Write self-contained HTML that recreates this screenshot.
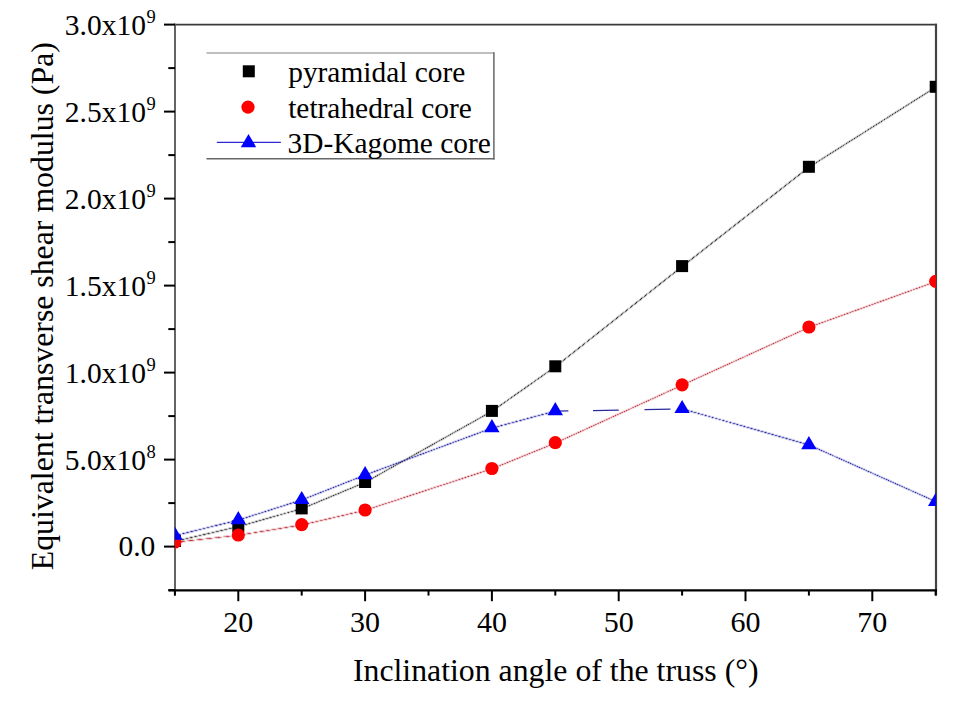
<!DOCTYPE html>
<html><head><meta charset="utf-8"><style>
html,body{margin:0;padding:0;background:#fff;}
svg{display:block;}
text{font-family:"Liberation Serif",serif;fill:#000;}
</style></head><body>
<svg width="960" height="706" viewBox="0 0 960 706">
<rect width="960" height="706" fill="#fff"/>
<defs><clipPath id="pc"><rect x="174.9" y="24.6" width="761.0" height="566"/></clipPath></defs>
<line x1="174" y1="24.7" x2="936.9" y2="24.7" stroke="#3a3a3a" stroke-width="1.8"/>
<line x1="936" y1="23.8" x2="936" y2="595.6" stroke="#444" stroke-width="2.2"/>
<line x1="175" y1="23.8" x2="175" y2="595.6" stroke="#5c5c5c" stroke-width="1.9"/>
<line x1="168.5" y1="590.4" x2="937" y2="590.4" stroke="#000" stroke-width="2.2"/>
<line x1="168.3" y1="590.1" x2="175" y2="590.1" stroke="#000" stroke-width="2"/>
<line x1="164" y1="546.6" x2="175" y2="546.6" stroke="#000" stroke-width="2"/>
<line x1="168.3" y1="503.1" x2="175" y2="503.1" stroke="#000" stroke-width="2"/>
<line x1="164" y1="459.6" x2="175" y2="459.6" stroke="#000" stroke-width="2"/>
<line x1="168.3" y1="416.1" x2="175" y2="416.1" stroke="#000" stroke-width="2"/>
<line x1="164" y1="372.6" x2="175" y2="372.6" stroke="#000" stroke-width="2"/>
<line x1="168.3" y1="329.1" x2="175" y2="329.1" stroke="#000" stroke-width="2"/>
<line x1="164" y1="285.6" x2="175" y2="285.6" stroke="#000" stroke-width="2"/>
<line x1="168.3" y1="242.1" x2="175" y2="242.1" stroke="#000" stroke-width="2"/>
<line x1="164" y1="198.6" x2="175" y2="198.6" stroke="#000" stroke-width="2"/>
<line x1="168.3" y1="155.1" x2="175" y2="155.1" stroke="#000" stroke-width="2"/>
<line x1="164" y1="111.6" x2="175" y2="111.6" stroke="#000" stroke-width="2"/>
<line x1="168.3" y1="68.1" x2="175" y2="68.1" stroke="#000" stroke-width="2"/>
<line x1="164" y1="24.6" x2="175" y2="24.6" stroke="#000" stroke-width="2"/>
<line x1="174.9" y1="590" x2="174.9" y2="595.6" stroke="#000" stroke-width="2"/>
<line x1="238.3" y1="590" x2="238.3" y2="601.2" stroke="#000" stroke-width="2"/>
<line x1="301.7" y1="590" x2="301.7" y2="595.6" stroke="#000" stroke-width="2"/>
<line x1="365.1" y1="590" x2="365.1" y2="601.2" stroke="#000" stroke-width="2"/>
<line x1="428.5" y1="590" x2="428.5" y2="595.6" stroke="#000" stroke-width="2"/>
<line x1="491.9" y1="590" x2="491.9" y2="601.2" stroke="#000" stroke-width="2"/>
<line x1="555.3" y1="590" x2="555.3" y2="595.6" stroke="#000" stroke-width="2"/>
<line x1="618.7" y1="590" x2="618.7" y2="601.2" stroke="#000" stroke-width="2"/>
<line x1="682.1" y1="590" x2="682.1" y2="595.6" stroke="#000" stroke-width="2"/>
<line x1="745.5" y1="590" x2="745.5" y2="601.2" stroke="#000" stroke-width="2"/>
<line x1="808.9" y1="590" x2="808.9" y2="595.6" stroke="#000" stroke-width="2"/>
<line x1="872.3" y1="590" x2="872.3" y2="601.2" stroke="#000" stroke-width="2"/>
<line x1="935.7" y1="590" x2="935.7" y2="595.6" stroke="#000" stroke-width="2"/>
<g clip-path="url(#pc)">
<path d="M933.8 86.8h1.4v1.4h-1.4zM928.8 90.8h1.4v1.4h-1.4zM925.8 91.8h1.4v1.4h-1.4zM925.8 92.8h1.4v1.4h-1.4zM922.8 93.8h1.4v1.4h-1.4zM917.8 97.8h1.4v1.4h-1.4zM914.8 98.8h1.4v1.4h-1.4zM909.8 102.8h1.4v1.4h-1.4zM906.8 103.8h1.4v1.4h-1.4zM906.8 104.8h1.4v1.4h-1.4zM903.8 105.8h1.4v1.4h-1.4zM898.8 109.8h1.4v1.4h-1.4zM895.8 110.8h1.4v1.4h-1.4zM890.8 114.8h1.4v1.4h-1.4zM887.8 115.8h1.4v1.4h-1.4zM887.8 116.8h1.4v1.4h-1.4zM884.8 117.8h1.4v1.4h-1.4zM882.8 119.8h1.4v1.4h-1.4zM879.8 121.8h1.4v1.4h-1.4zM876.8 122.8h1.4v1.4h-1.4zM871.8 126.8h1.4v1.4h-1.4zM868.8 127.8h1.4v1.4h-1.4zM865.8 129.8h1.4v1.4h-1.4zM863.8 131.8h1.4v1.4h-1.4zM860.8 133.8h1.4v1.4h-1.4zM857.8 134.8h1.4v1.4h-1.4zM852.8 138.8h1.4v1.4h-1.4zM849.8 139.8h1.4v1.4h-1.4zM844.8 143.8h1.4v1.4h-1.4zM841.8 144.8h1.4v1.4h-1.4zM841.8 145.8h1.4v1.4h-1.4zM838.8 146.8h1.4v1.4h-1.4zM833.8 150.8h1.4v1.4h-1.4zM830.8 151.8h1.4v1.4h-1.4zM825.8 155.8h1.4v1.4h-1.4zM822.8 156.8h1.4v1.4h-1.4zM822.8 157.8h1.4v1.4h-1.4zM819.8 158.8h1.4v1.4h-1.4zM814.8 162.8h1.4v1.4h-1.4zM811.8 163.8h1.4v1.4h-1.4zM804.8 168.8h1.4v1.4h-1.4zM800.8 171.8h1.4v1.4h-1.4zM800.8 172.8h1.4v1.4h-1.4zM795.8 175.8h1.4v1.4h-1.4zM791.8 179.8h1.4v1.4h-1.4zM786.8 182.8h1.4v1.4h-1.4zM786.8 183.8h1.4v1.4h-1.4zM781.8 186.8h1.4v1.4h-1.4zM777.8 190.8h1.4v1.4h-1.4zM772.8 193.8h1.4v1.4h-1.4zM772.8 194.8h1.4v1.4h-1.4zM767.8 197.8h2.4v1.4h-2.4zM763.8 200.8h1.4v1.4h-1.4zM763.8 201.8h1.4v1.4h-1.4zM758.8 204.8h1.4v1.4h-1.4zM754.8 208.8h1.4v1.4h-1.4zM749.8 211.8h1.4v1.4h-1.4zM749.8 212.8h1.4v1.4h-1.4zM744.8 215.8h2.4v1.4h-2.4zM740.8 218.8h1.4v1.4h-1.4zM740.8 219.8h1.4v1.4h-1.4zM735.8 222.8h1.4v1.4h-1.4zM731.8 226.8h1.4v1.4h-1.4zM726.8 229.8h1.4v1.4h-1.4zM726.8 230.8h1.4v1.4h-1.4zM721.8 233.8h1.4v1.4h-1.4zM717.8 236.8h1.4v1.4h-1.4zM717.8 237.8h1.4v1.4h-1.4zM712.8 240.8h1.4v1.4h-1.4zM708.8 244.8h1.4v1.4h-1.4zM703.8 247.8h1.4v1.4h-1.4zM703.8 248.8h1.4v1.4h-1.4zM698.8 251.8h1.4v1.4h-1.4zM694.8 255.8h1.4v1.4h-1.4zM689.8 258.8h1.4v1.4h-1.4zM689.8 259.8h1.4v1.4h-1.4zM684.8 262.8h2.4v1.4h-2.4zM680.8 265.8h1.4v1.4h-1.4zM680.8 266.8h1.4v1.4h-1.4zM675.8 269.8h1.4v1.4h-1.4zM675.8 270.8h1.4v1.4h-1.4zM670.8 273.8h1.4v1.4h-1.4zM666.8 277.8h1.4v1.4h-1.4zM661.8 280.8h1.4v1.4h-1.4zM661.8 281.8h1.4v1.4h-1.4zM656.8 284.8h1.4v1.4h-1.4zM656.8 285.8h1.4v1.4h-1.4zM651.8 288.8h1.4v1.4h-1.4zM646.8 292.8h2.4v1.4h-2.4zM642.8 296.8h1.4v1.4h-1.4zM637.8 299.8h1.4v1.4h-1.4zM637.8 300.8h1.4v1.4h-1.4zM632.8 303.8h1.4v1.4h-1.4zM627.8 307.8h2.4v1.4h-2.4zM623.8 311.8h1.4v1.4h-1.4zM618.8 314.8h1.4v1.4h-1.4zM618.8 315.8h1.4v1.4h-1.4zM613.8 318.8h1.4v1.4h-1.4zM613.8 319.8h1.4v1.4h-1.4zM608.8 322.8h1.4v1.4h-1.4zM604.8 326.8h1.4v1.4h-1.4zM599.8 329.8h1.4v1.4h-1.4zM599.8 330.8h1.4v1.4h-1.4zM594.8 333.8h1.4v1.4h-1.4zM594.8 334.8h1.4v1.4h-1.4zM589.8 337.8h1.4v1.4h-1.4zM584.8 341.8h2.4v1.4h-2.4zM580.8 345.8h1.4v1.4h-1.4zM575.8 348.8h1.4v1.4h-1.4zM575.8 349.8h1.4v1.4h-1.4zM570.8 352.8h1.4v1.4h-1.4zM565.8 356.8h2.4v1.4h-2.4zM561.8 360.8h1.4v1.4h-1.4zM556.8 363.8h1.4v1.4h-1.4zM556.8 364.8h1.4v1.4h-1.4zM552.8 366.8h1.4v1.4h-1.4zM552.8 367.8h1.4v1.4h-1.4zM549.8 369.8h1.4v1.4h-1.4zM545.8 371.8h1.4v1.4h-1.4zM542.8 373.8h1.4v1.4h-1.4zM542.8 374.8h1.4v1.4h-1.4zM535.8 378.8h1.4v1.4h-1.4zM532.8 381.8h1.4v1.4h-1.4zM528.8 383.8h1.4v1.4h-1.4zM525.8 385.8h1.4v1.4h-1.4zM525.8 386.8h1.4v1.4h-1.4zM522.8 388.8h1.4v1.4h-1.4zM518.8 390.8h1.4v1.4h-1.4zM515.8 392.8h1.4v1.4h-1.4zM515.8 393.8h1.4v1.4h-1.4zM512.8 395.8h1.4v1.4h-1.4zM508.8 397.8h1.4v1.4h-1.4zM505.8 400.8h1.4v1.4h-1.4zM501.8 402.8h1.4v1.4h-1.4zM498.8 404.8h1.4v1.4h-1.4zM498.8 405.8h1.4v1.4h-1.4zM495.8 407.8h1.4v1.4h-1.4zM491.8 409.8h1.4v1.4h-1.4zM489.8 411.8h1.4v1.4h-1.4zM484.8 413.8h1.4v1.4h-1.4zM482.8 414.8h1.4v1.4h-1.4zM482.8 415.8h1.4v1.4h-1.4zM480.8 416.8h1.4v1.4h-1.4zM475.8 418.8h1.4v1.4h-1.4zM473.8 420.8h1.4v1.4h-1.4zM468.8 422.8h1.4v1.4h-1.4zM466.8 423.8h1.4v1.4h-1.4zM464.8 425.8h1.4v1.4h-1.4zM459.8 427.8h1.4v1.4h-1.4zM457.8 429.8h1.4v1.4h-1.4zM455.8 430.8h1.4v1.4h-1.4zM450.8 432.8h1.4v1.4h-1.4zM448.8 434.8h1.4v1.4h-1.4zM443.8 436.8h1.4v1.4h-1.4zM441.8 437.8h1.4v1.4h-1.4zM441.8 438.8h1.4v1.4h-1.4zM439.8 439.8h1.4v1.4h-1.4zM434.8 441.8h1.4v1.4h-1.4zM432.8 443.8h1.4v1.4h-1.4zM425.8 446.8h1.4v1.4h-1.4zM423.8 448.8h1.4v1.4h-1.4zM418.8 450.8h1.4v1.4h-1.4zM416.8 451.8h1.4v1.4h-1.4zM416.8 452.8h1.4v1.4h-1.4zM414.8 453.8h1.4v1.4h-1.4zM409.8 455.8h1.4v1.4h-1.4zM407.8 457.8h1.4v1.4h-1.4zM402.8 459.8h1.4v1.4h-1.4zM400.8 460.8h1.4v1.4h-1.4zM398.8 462.8h1.4v1.4h-1.4zM393.8 464.8h1.4v1.4h-1.4zM391.8 466.8h1.4v1.4h-1.4zM389.8 467.8h1.4v1.4h-1.4zM384.8 469.8h1.4v1.4h-1.4zM382.8 471.8h1.4v1.4h-1.4zM377.8 473.8h1.4v1.4h-1.4zM375.8 474.8h1.4v1.4h-1.4zM375.8 475.8h1.4v1.4h-1.4zM373.8 476.8h1.4v1.4h-1.4zM368.8 478.8h1.4v1.4h-1.4zM366.8 480.8h1.4v1.4h-1.4zM360.8 482.8h1.4v1.4h-1.4zM362.8 482.8h1.4v1.4h-1.4zM355.8 484.8h1.4v1.4h-1.4zM357.8 484.8h1.4v1.4h-1.4zM348.8 487.8h1.4v1.4h-1.4zM350.8 487.8h1.4v1.4h-1.4zM343.8 489.8h1.4v1.4h-1.4zM345.8 489.8h1.4v1.4h-1.4zM336.8 492.8h1.4v1.4h-1.4zM338.8 492.8h1.4v1.4h-1.4zM331.8 494.8h1.4v1.4h-1.4zM333.8 494.8h1.4v1.4h-1.4zM324.8 497.8h1.4v1.4h-1.4zM326.8 497.8h1.4v1.4h-1.4zM319.8 499.8h1.4v1.4h-1.4zM321.8 499.8h1.4v1.4h-1.4zM312.8 502.8h1.4v1.4h-1.4zM314.8 502.8h1.4v1.4h-1.4zM307.8 504.8h1.4v1.4h-1.4zM309.8 504.8h1.4v1.4h-1.4zM302.8 507.8h1.4v1.4h-1.4zM296.8 508.8h1.4v1.4h-1.4zM299.8 508.8h1.4v1.4h-1.4zM289.8 510.8h1.4v1.4h-1.4zM292.8 510.8h1.4v1.4h-1.4zM288.8 511.8h1.4v1.4h-1.4zM282.8 512.8h1.4v1.4h-1.4zM281.8 513.8h1.4v1.4h-1.4zM275.8 514.8h1.4v1.4h-1.4zM271.8 515.8h1.4v1.4h-1.4zM274.8 515.8h1.4v1.4h-1.4zM264.8 517.8h1.4v1.4h-1.4zM267.8 517.8h1.4v1.4h-1.4zM257.8 519.8h1.4v1.4h-1.4zM260.8 519.8h1.4v1.4h-1.4zM250.8 521.8h1.4v1.4h-1.4zM253.8 521.8h1.4v1.4h-1.4zM249.8 522.8h1.4v1.4h-1.4zM243.8 523.8h1.4v1.4h-1.4zM246.8 523.8h1.4v1.4h-1.4zM242.8 524.8h1.4v1.4h-1.4zM231.8 526.8h1.4v1.4h-1.4zM235.8 526.8h1.4v1.4h-1.4zM227.8 527.8h1.4v1.4h-1.4zM226.8 528.8h1.4v1.4h-1.4zM218.8 529.8h1.4v1.4h-1.4zM222.8 529.8h1.4v1.4h-1.4zM214.8 530.8h1.4v1.4h-1.4zM210.8 531.8h1.4v1.4h-1.4zM213.8 531.8h1.4v1.4h-1.4zM205.8 532.8h1.4v1.4h-1.4zM209.8 532.8h1.4v1.4h-1.4zM201.8 533.8h1.4v1.4h-1.4zM197.8 534.8h1.4v1.4h-1.4zM200.8 534.8h1.4v1.4h-1.4zM196.8 535.8h1.4v1.4h-1.4zM188.8 536.8h1.4v1.4h-1.4zM184.8 537.8h1.4v1.4h-1.4zM187.8 537.8h1.4v1.4h-1.4zM183.8 538.8h1.4v1.4h-1.4zM175.8 539.8h1.4v1.4h-1.4zM174.8 540.8h1.4v1.4h-1.4z" fill="#383838" fill-opacity="0.25"/>
<path d="M930.8 88.8h2.4v1.4h-2.4zM927.8 90.8h1.4v1.4h-1.4zM919.8 95.8h2.4v1.4h-2.4zM911.8 100.8h2.4v1.4h-2.4zM908.8 102.8h1.4v1.4h-1.4zM904.8 105.8h1.4v1.4h-1.4zM900.8 107.8h2.4v1.4h-2.4zM892.8 112.8h2.4v1.4h-2.4zM885.8 117.8h1.4v1.4h-1.4zM881.8 119.8h1.4v1.4h-1.4zM873.8 124.8h2.4v1.4h-2.4zM866.8 129.8h1.4v1.4h-1.4zM862.8 131.8h1.4v1.4h-1.4zM854.8 136.8h2.4v1.4h-2.4zM846.8 141.8h2.4v1.4h-2.4zM843.8 143.8h1.4v1.4h-1.4zM835.8 148.8h2.4v1.4h-2.4zM827.8 153.8h2.4v1.4h-2.4zM824.8 155.8h1.4v1.4h-1.4zM820.8 158.8h1.4v1.4h-1.4zM816.8 160.8h2.4v1.4h-2.4zM808.8 165.8h2.4v1.4h-2.4zM805.8 168.8h1.4v1.4h-1.4zM799.8 172.8h1.4v1.4h-1.4zM796.8 175.8h1.4v1.4h-1.4zM790.8 179.8h1.4v1.4h-1.4zM787.8 182.8h1.4v1.4h-1.4zM785.8 183.8h1.4v1.4h-1.4zM782.8 186.8h1.4v1.4h-1.4zM776.8 190.8h1.4v1.4h-1.4zM773.8 193.8h1.4v1.4h-1.4zM764.8 200.8h1.4v1.4h-1.4zM762.8 201.8h1.4v1.4h-1.4zM759.8 204.8h1.4v1.4h-1.4zM753.8 208.8h1.4v1.4h-1.4zM750.8 211.8h1.4v1.4h-1.4zM748.8 212.8h1.4v1.4h-1.4zM739.8 219.8h1.4v1.4h-1.4zM736.8 222.8h1.4v1.4h-1.4zM730.8 226.8h1.4v1.4h-1.4zM727.8 229.8h1.4v1.4h-1.4zM725.8 230.8h1.4v1.4h-1.4zM722.8 233.8h1.4v1.4h-1.4zM716.8 237.8h1.4v1.4h-1.4zM713.8 240.8h1.4v1.4h-1.4zM707.8 244.8h1.4v1.4h-1.4zM704.8 247.8h1.4v1.4h-1.4zM702.8 248.8h1.4v1.4h-1.4zM699.8 251.8h1.4v1.4h-1.4zM693.8 255.8h1.4v1.4h-1.4zM690.8 258.8h1.4v1.4h-1.4zM681.8 265.8h1.4v1.4h-1.4zM679.8 266.8h1.4v1.4h-1.4zM676.8 269.8h1.4v1.4h-1.4zM674.8 270.8h1.4v1.4h-1.4zM671.8 273.8h1.4v1.4h-1.4zM665.8 277.8h1.4v1.4h-1.4zM660.8 281.8h1.4v1.4h-1.4zM657.8 284.8h1.4v1.4h-1.4zM655.8 285.8h1.4v1.4h-1.4zM652.8 288.8h1.4v1.4h-1.4zM641.8 296.8h1.4v1.4h-1.4zM638.8 299.8h1.4v1.4h-1.4zM636.8 300.8h1.4v1.4h-1.4zM633.8 303.8h1.4v1.4h-1.4zM622.8 311.8h1.4v1.4h-1.4zM619.8 314.8h1.4v1.4h-1.4zM617.8 315.8h1.4v1.4h-1.4zM614.8 318.8h1.4v1.4h-1.4zM612.8 319.8h1.4v1.4h-1.4zM609.8 322.8h1.4v1.4h-1.4zM603.8 326.8h1.4v1.4h-1.4zM600.8 329.8h1.4v1.4h-1.4zM598.8 330.8h1.4v1.4h-1.4zM595.8 333.8h1.4v1.4h-1.4zM593.8 334.8h1.4v1.4h-1.4zM590.8 337.8h1.4v1.4h-1.4zM579.8 345.8h1.4v1.4h-1.4zM576.8 348.8h1.4v1.4h-1.4zM574.8 349.8h1.4v1.4h-1.4zM571.8 352.8h1.4v1.4h-1.4zM560.8 360.8h1.4v1.4h-1.4zM557.8 363.8h1.4v1.4h-1.4zM555.8 364.8h1.4v1.4h-1.4zM548.8 369.8h1.4v1.4h-1.4zM546.8 371.8h1.4v1.4h-1.4zM538.8 376.8h2.4v1.4h-2.4zM536.8 378.8h1.4v1.4h-1.4zM531.8 381.8h1.4v1.4h-1.4zM529.8 383.8h1.4v1.4h-1.4zM521.8 388.8h1.4v1.4h-1.4zM519.8 390.8h1.4v1.4h-1.4zM511.8 395.8h1.4v1.4h-1.4zM509.8 397.8h1.4v1.4h-1.4zM504.8 400.8h1.4v1.4h-1.4zM502.8 402.8h1.4v1.4h-1.4zM494.8 407.8h1.4v1.4h-1.4zM492.8 409.8h1.4v1.4h-1.4zM486.8 412.8h2.4v1.4h-2.4zM477.8 417.8h2.4v1.4h-2.4zM470.8 421.8h2.4v1.4h-2.4zM461.8 426.8h2.4v1.4h-2.4zM452.8 431.8h2.4v1.4h-2.4zM445.8 435.8h2.4v1.4h-2.4zM436.8 440.8h2.4v1.4h-2.4zM430.8 444.8h1.4v1.4h-1.4zM427.8 445.8h1.4v1.4h-1.4zM420.8 449.8h2.4v1.4h-2.4zM411.8 454.8h2.4v1.4h-2.4zM404.8 458.8h2.4v1.4h-2.4zM395.8 463.8h2.4v1.4h-2.4zM386.8 468.8h2.4v1.4h-2.4zM379.8 472.8h2.4v1.4h-2.4zM370.8 477.8h2.4v1.4h-2.4zM364.8 481.8h1.4v1.4h-1.4zM359.8 483.8h1.4v1.4h-1.4zM353.8 485.8h1.4v1.4h-1.4zM352.8 486.8h1.4v1.4h-1.4zM347.8 488.8h1.4v1.4h-1.4zM341.8 490.8h1.4v1.4h-1.4zM340.8 491.8h1.4v1.4h-1.4zM335.8 493.8h1.4v1.4h-1.4zM329.8 495.8h1.4v1.4h-1.4zM328.8 496.8h1.4v1.4h-1.4zM323.8 498.8h1.4v1.4h-1.4zM317.8 500.8h1.4v1.4h-1.4zM316.8 501.8h1.4v1.4h-1.4zM311.8 503.8h1.4v1.4h-1.4zM305.8 505.8h1.4v1.4h-1.4zM304.8 506.8h1.4v1.4h-1.4zM300.8 507.8h1.4v1.4h-1.4zM293.8 509.8h1.4v1.4h-1.4zM295.8 509.8h1.4v1.4h-1.4zM286.8 511.8h1.4v1.4h-1.4zM284.8 512.8h1.4v1.4h-1.4zM279.8 513.8h1.4v1.4h-1.4zM277.8 514.8h1.4v1.4h-1.4zM268.8 516.8h1.4v1.4h-1.4zM270.8 516.8h1.4v1.4h-1.4zM261.8 518.8h1.4v1.4h-1.4zM263.8 518.8h1.4v1.4h-1.4zM254.8 520.8h1.4v1.4h-1.4zM256.8 520.8h1.4v1.4h-1.4zM247.8 522.8h1.4v1.4h-1.4zM240.8 524.8h1.4v1.4h-1.4zM236.8 525.8h1.4v1.4h-1.4zM238.8 525.8h1.4v1.4h-1.4zM232.8 526.8h1.4v1.4h-1.4zM234.8 526.8h1.4v1.4h-1.4zM230.8 527.8h1.4v1.4h-1.4zM223.8 528.8h1.4v1.4h-1.4zM219.8 529.8h1.4v1.4h-1.4zM221.8 529.8h1.4v1.4h-1.4zM217.8 530.8h1.4v1.4h-1.4zM206.8 532.8h1.4v1.4h-1.4zM208.8 532.8h1.4v1.4h-1.4zM204.8 533.8h1.4v1.4h-1.4zM193.8 535.8h1.4v1.4h-1.4zM195.8 535.8h1.4v1.4h-1.4zM191.8 536.8h1.4v1.4h-1.4zM180.8 538.8h1.4v1.4h-1.4zM176.8 539.8h1.4v1.4h-1.4zM178.8 539.8h1.4v1.4h-1.4z" fill="#383838" fill-opacity="0.50"/>
<path d="M926.8 91.8h1.4v1.4h-1.4zM924.8 92.8h1.4v1.4h-1.4zM923.8 93.8h1.4v1.4h-1.4zM916.8 97.8h1.4v1.4h-1.4zM915.8 98.8h1.4v1.4h-1.4zM907.8 103.8h1.4v1.4h-1.4zM905.8 104.8h1.4v1.4h-1.4zM897.8 109.8h1.4v1.4h-1.4zM896.8 110.8h1.4v1.4h-1.4zM889.8 114.8h1.4v1.4h-1.4zM888.8 115.8h1.4v1.4h-1.4zM886.8 116.8h1.4v1.4h-1.4zM878.8 121.8h1.4v1.4h-1.4zM877.8 122.8h1.4v1.4h-1.4zM870.8 126.8h1.4v1.4h-1.4zM869.8 127.8h1.4v1.4h-1.4zM861.8 132.8h1.4v1.4h-1.4zM859.8 133.8h1.4v1.4h-1.4zM858.8 134.8h1.4v1.4h-1.4zM851.8 138.8h1.4v1.4h-1.4zM850.8 139.8h1.4v1.4h-1.4zM842.8 144.8h1.4v1.4h-1.4zM840.8 145.8h1.4v1.4h-1.4zM839.8 146.8h1.4v1.4h-1.4zM832.8 150.8h1.4v1.4h-1.4zM831.8 151.8h1.4v1.4h-1.4zM823.8 156.8h1.4v1.4h-1.4zM821.8 157.8h1.4v1.4h-1.4zM813.8 162.8h1.4v1.4h-1.4zM812.8 163.8h1.4v1.4h-1.4zM806.8 167.8h1.4v1.4h-1.4zM803.8 169.8h1.4v1.4h-1.4zM801.8 171.8h1.4v1.4h-1.4zM794.8 176.8h1.4v1.4h-1.4zM792.8 178.8h1.4v1.4h-1.4zM789.8 180.8h1.4v1.4h-1.4zM783.8 185.8h1.4v1.4h-1.4zM780.8 187.8h1.4v1.4h-1.4zM778.8 189.8h1.4v1.4h-1.4zM771.8 194.8h1.4v1.4h-1.4zM769.8 196.8h1.4v1.4h-1.4zM766.8 198.8h1.4v1.4h-1.4zM760.8 203.8h1.4v1.4h-1.4zM757.8 205.8h1.4v1.4h-1.4zM755.8 207.8h1.4v1.4h-1.4zM752.8 209.8h1.4v1.4h-1.4zM746.8 214.8h1.4v1.4h-1.4zM743.8 216.8h1.4v1.4h-1.4zM741.8 218.8h1.4v1.4h-1.4zM734.8 223.8h1.4v1.4h-1.4zM732.8 225.8h1.4v1.4h-1.4zM729.8 227.8h1.4v1.4h-1.4zM723.8 232.8h1.4v1.4h-1.4zM720.8 234.8h1.4v1.4h-1.4zM718.8 236.8h1.4v1.4h-1.4zM711.8 241.8h1.4v1.4h-1.4zM709.8 243.8h1.4v1.4h-1.4zM706.8 245.8h1.4v1.4h-1.4zM700.8 250.8h1.4v1.4h-1.4zM697.8 252.8h1.4v1.4h-1.4zM695.8 254.8h1.4v1.4h-1.4zM688.8 259.8h1.4v1.4h-1.4zM686.8 261.8h1.4v1.4h-1.4zM683.8 263.8h1.4v1.4h-1.4zM672.8 272.8h1.4v1.4h-1.4zM669.8 274.8h1.4v1.4h-1.4zM667.8 276.8h1.4v1.4h-1.4zM664.8 278.8h1.4v1.4h-1.4zM662.8 280.8h1.4v1.4h-1.4zM653.8 287.8h1.4v1.4h-1.4zM650.8 289.8h1.4v1.4h-1.4zM648.8 291.8h1.4v1.4h-1.4zM645.8 293.8h1.4v1.4h-1.4zM643.8 295.8h1.4v1.4h-1.4zM631.8 304.8h1.4v1.4h-1.4zM629.8 306.8h1.4v1.4h-1.4zM626.8 308.8h1.4v1.4h-1.4zM624.8 310.8h1.4v1.4h-1.4zM621.8 312.8h1.4v1.4h-1.4zM610.8 321.8h1.4v1.4h-1.4zM607.8 323.8h1.4v1.4h-1.4zM605.8 325.8h1.4v1.4h-1.4zM602.8 327.8h1.4v1.4h-1.4zM591.8 336.8h1.4v1.4h-1.4zM588.8 338.8h1.4v1.4h-1.4zM586.8 340.8h1.4v1.4h-1.4zM583.8 342.8h1.4v1.4h-1.4zM581.8 344.8h1.4v1.4h-1.4zM572.8 351.8h1.4v1.4h-1.4zM569.8 353.8h1.4v1.4h-1.4zM567.8 355.8h1.4v1.4h-1.4zM564.8 357.8h1.4v1.4h-1.4zM562.8 359.8h1.4v1.4h-1.4zM559.8 361.8h1.4v1.4h-1.4zM553.8 366.8h1.4v1.4h-1.4zM551.8 367.8h1.4v1.4h-1.4zM544.8 372.8h1.4v1.4h-1.4zM543.8 373.8h1.4v1.4h-1.4zM541.8 374.8h1.4v1.4h-1.4zM534.8 379.8h1.4v1.4h-1.4zM533.8 380.8h1.4v1.4h-1.4zM526.8 385.8h1.4v1.4h-1.4zM524.8 386.8h1.4v1.4h-1.4zM516.8 392.8h1.4v1.4h-1.4zM514.8 393.8h1.4v1.4h-1.4zM507.8 398.8h1.4v1.4h-1.4zM506.8 399.8h1.4v1.4h-1.4zM499.8 404.8h1.4v1.4h-1.4zM497.8 405.8h1.4v1.4h-1.4zM488.8 411.8h1.4v1.4h-1.4zM485.8 413.8h1.4v1.4h-1.4zM479.8 416.8h1.4v1.4h-1.4zM476.8 418.8h1.4v1.4h-1.4zM472.8 420.8h1.4v1.4h-1.4zM469.8 422.8h1.4v1.4h-1.4zM463.8 425.8h1.4v1.4h-1.4zM460.8 427.8h1.4v1.4h-1.4zM454.8 430.8h1.4v1.4h-1.4zM451.8 432.8h1.4v1.4h-1.4zM447.8 434.8h1.4v1.4h-1.4zM444.8 436.8h1.4v1.4h-1.4zM438.8 439.8h1.4v1.4h-1.4zM435.8 441.8h1.4v1.4h-1.4zM429.8 444.8h1.4v1.4h-1.4zM428.8 445.8h1.4v1.4h-1.4zM422.8 448.8h1.4v1.4h-1.4zM419.8 450.8h1.4v1.4h-1.4zM413.8 453.8h1.4v1.4h-1.4zM410.8 455.8h1.4v1.4h-1.4zM406.8 457.8h1.4v1.4h-1.4zM403.8 459.8h1.4v1.4h-1.4zM397.8 462.8h1.4v1.4h-1.4zM394.8 464.8h1.4v1.4h-1.4zM388.8 467.8h1.4v1.4h-1.4zM385.8 469.8h1.4v1.4h-1.4zM381.8 471.8h1.4v1.4h-1.4zM378.8 473.8h1.4v1.4h-1.4zM372.8 476.8h1.4v1.4h-1.4zM369.8 478.8h1.4v1.4h-1.4zM365.8 480.8h1.4v1.4h-1.4zM363.8 481.8h1.4v1.4h-1.4zM358.8 483.8h1.4v1.4h-1.4zM354.8 485.8h1.4v1.4h-1.4zM351.8 486.8h1.4v1.4h-1.4zM346.8 488.8h1.4v1.4h-1.4zM342.8 490.8h1.4v1.4h-1.4zM339.8 491.8h1.4v1.4h-1.4zM334.8 493.8h1.4v1.4h-1.4zM330.8 495.8h1.4v1.4h-1.4zM327.8 496.8h1.4v1.4h-1.4zM322.8 498.8h1.4v1.4h-1.4zM318.8 500.8h1.4v1.4h-1.4zM315.8 501.8h1.4v1.4h-1.4zM310.8 503.8h1.4v1.4h-1.4zM306.8 505.8h1.4v1.4h-1.4zM303.8 506.8h1.4v1.4h-1.4zM297.8 508.8h2.4v1.4h-2.4zM290.8 510.8h2.4v1.4h-2.4zM283.8 512.8h1.4v1.4h-1.4zM280.8 513.8h1.4v1.4h-1.4zM272.8 515.8h2.4v1.4h-2.4zM265.8 517.8h2.4v1.4h-2.4zM258.8 519.8h2.4v1.4h-2.4zM251.8 521.8h2.4v1.4h-2.4zM244.8 523.8h2.4v1.4h-2.4zM228.8 527.8h2.4v1.4h-2.4zM224.8 528.8h2.4v1.4h-2.4zM215.8 530.8h2.4v1.4h-2.4zM211.8 531.8h2.4v1.4h-2.4zM202.8 533.8h1.4v1.4h-1.4zM198.8 534.8h2.4v1.4h-2.4zM189.8 536.8h1.4v1.4h-1.4zM185.8 537.8h2.4v1.4h-2.4zM182.8 538.8h1.4v1.4h-1.4z" fill="#383838" fill-opacity="0.75"/>
<path d="M932.8 87.8h1.4v1.4h-1.4zM929.8 89.8h1.4v1.4h-1.4zM921.8 94.8h1.4v1.4h-1.4zM918.8 96.8h1.4v1.4h-1.4zM913.8 99.8h1.4v1.4h-1.4zM910.8 101.8h1.4v1.4h-1.4zM902.8 106.8h1.4v1.4h-1.4zM899.8 108.8h1.4v1.4h-1.4zM894.8 111.8h1.4v1.4h-1.4zM891.8 113.8h1.4v1.4h-1.4zM883.8 118.8h1.4v1.4h-1.4zM880.8 120.8h1.4v1.4h-1.4zM875.8 123.8h1.4v1.4h-1.4zM872.8 125.8h1.4v1.4h-1.4zM867.8 128.8h1.4v1.4h-1.4zM864.8 130.8h1.4v1.4h-1.4zM856.8 135.8h1.4v1.4h-1.4zM853.8 137.8h1.4v1.4h-1.4zM848.8 140.8h1.4v1.4h-1.4zM845.8 142.8h1.4v1.4h-1.4zM837.8 147.8h1.4v1.4h-1.4zM834.8 149.8h1.4v1.4h-1.4zM829.8 152.8h1.4v1.4h-1.4zM826.8 154.8h1.4v1.4h-1.4zM818.8 159.8h1.4v1.4h-1.4zM815.8 161.8h1.4v1.4h-1.4zM810.8 164.8h1.4v1.4h-1.4zM807.8 166.8h1.4v1.4h-1.4zM802.8 170.8h1.4v1.4h-1.4zM798.8 173.8h1.4v1.4h-1.4zM797.8 174.8h1.4v1.4h-1.4zM793.8 177.8h1.4v1.4h-1.4zM788.8 181.8h1.4v1.4h-1.4zM784.8 184.8h1.4v1.4h-1.4zM779.8 188.8h1.4v1.4h-1.4zM775.8 191.8h1.4v1.4h-1.4zM774.8 192.8h1.4v1.4h-1.4zM770.8 195.8h1.4v1.4h-1.4zM765.8 199.8h1.4v1.4h-1.4zM761.8 202.8h1.4v1.4h-1.4zM756.8 206.8h1.4v1.4h-1.4zM751.8 210.8h1.4v1.4h-1.4zM747.8 213.8h1.4v1.4h-1.4zM742.8 217.8h1.4v1.4h-1.4zM738.8 220.8h1.4v1.4h-1.4zM737.8 221.8h1.4v1.4h-1.4zM733.8 224.8h1.4v1.4h-1.4zM728.8 228.8h1.4v1.4h-1.4zM724.8 231.8h1.4v1.4h-1.4zM719.8 235.8h1.4v1.4h-1.4zM715.8 238.8h1.4v1.4h-1.4zM714.8 239.8h1.4v1.4h-1.4zM710.8 242.8h1.4v1.4h-1.4zM705.8 246.8h1.4v1.4h-1.4zM701.8 249.8h1.4v1.4h-1.4zM696.8 253.8h1.4v1.4h-1.4zM692.8 256.8h1.4v1.4h-1.4zM691.8 257.8h1.4v1.4h-1.4zM687.8 260.8h1.4v1.4h-1.4zM682.8 264.8h1.4v1.4h-1.4zM678.8 267.8h1.4v1.4h-1.4zM677.8 268.8h1.4v1.4h-1.4zM673.8 271.8h1.4v1.4h-1.4zM668.8 275.8h1.4v1.4h-1.4zM663.8 279.8h1.4v1.4h-1.4zM659.8 282.8h1.4v1.4h-1.4zM658.8 283.8h1.4v1.4h-1.4zM654.8 286.8h1.4v1.4h-1.4zM649.8 290.8h1.4v1.4h-1.4zM644.8 294.8h1.4v1.4h-1.4zM640.8 297.8h1.4v1.4h-1.4zM639.8 298.8h1.4v1.4h-1.4zM635.8 301.8h1.4v1.4h-1.4zM634.8 302.8h1.4v1.4h-1.4zM630.8 305.8h1.4v1.4h-1.4zM625.8 309.8h1.4v1.4h-1.4zM620.8 313.8h1.4v1.4h-1.4zM616.8 316.8h1.4v1.4h-1.4zM615.8 317.8h1.4v1.4h-1.4zM611.8 320.8h1.4v1.4h-1.4zM606.8 324.8h1.4v1.4h-1.4zM601.8 328.8h1.4v1.4h-1.4zM597.8 331.8h1.4v1.4h-1.4zM596.8 332.8h1.4v1.4h-1.4zM592.8 335.8h1.4v1.4h-1.4zM587.8 339.8h1.4v1.4h-1.4zM582.8 343.8h1.4v1.4h-1.4zM578.8 346.8h1.4v1.4h-1.4zM577.8 347.8h1.4v1.4h-1.4zM573.8 350.8h1.4v1.4h-1.4zM568.8 354.8h1.4v1.4h-1.4zM563.8 358.8h1.4v1.4h-1.4zM558.8 362.8h1.4v1.4h-1.4zM554.8 365.8h1.4v1.4h-1.4zM550.8 368.8h1.4v1.4h-1.4zM547.8 370.8h1.4v1.4h-1.4zM540.8 375.8h1.4v1.4h-1.4zM537.8 377.8h1.4v1.4h-1.4zM530.8 382.8h1.4v1.4h-1.4zM527.8 384.8h1.4v1.4h-1.4zM523.8 387.8h1.4v1.4h-1.4zM520.8 389.8h1.4v1.4h-1.4zM517.8 391.8h1.4v1.4h-1.4zM513.8 394.8h1.4v1.4h-1.4zM510.8 396.8h1.4v1.4h-1.4zM503.8 401.8h1.4v1.4h-1.4zM500.8 403.8h1.4v1.4h-1.4zM496.8 406.8h1.4v1.4h-1.4zM493.8 408.8h1.4v1.4h-1.4zM490.8 410.8h1.4v1.4h-1.4zM483.8 414.8h1.4v1.4h-1.4zM481.8 415.8h1.4v1.4h-1.4zM474.8 419.8h1.4v1.4h-1.4zM467.8 423.8h1.4v1.4h-1.4zM465.8 424.8h1.4v1.4h-1.4zM458.8 428.8h1.4v1.4h-1.4zM456.8 429.8h1.4v1.4h-1.4zM449.8 433.8h1.4v1.4h-1.4zM442.8 437.8h1.4v1.4h-1.4zM440.8 438.8h1.4v1.4h-1.4zM433.8 442.8h1.4v1.4h-1.4zM431.8 443.8h1.4v1.4h-1.4zM426.8 446.8h1.4v1.4h-1.4zM424.8 447.8h1.4v1.4h-1.4zM417.8 451.8h1.4v1.4h-1.4zM415.8 452.8h1.4v1.4h-1.4zM408.8 456.8h1.4v1.4h-1.4zM401.8 460.8h1.4v1.4h-1.4zM399.8 461.8h1.4v1.4h-1.4zM392.8 465.8h1.4v1.4h-1.4zM390.8 466.8h1.4v1.4h-1.4zM383.8 470.8h1.4v1.4h-1.4zM376.8 474.8h1.4v1.4h-1.4zM374.8 475.8h1.4v1.4h-1.4zM367.8 479.8h1.4v1.4h-1.4zM361.8 482.8h1.4v1.4h-1.4zM356.8 484.8h1.4v1.4h-1.4zM349.8 487.8h1.4v1.4h-1.4zM344.8 489.8h1.4v1.4h-1.4zM337.8 492.8h1.4v1.4h-1.4zM332.8 494.8h1.4v1.4h-1.4zM325.8 497.8h1.4v1.4h-1.4zM320.8 499.8h1.4v1.4h-1.4zM313.8 502.8h1.4v1.4h-1.4zM308.8 504.8h1.4v1.4h-1.4zM301.8 507.8h1.4v1.4h-1.4zM294.8 509.8h1.4v1.4h-1.4zM287.8 511.8h1.4v1.4h-1.4zM276.8 514.8h1.4v1.4h-1.4zM269.8 516.8h1.4v1.4h-1.4zM262.8 518.8h1.4v1.4h-1.4zM255.8 520.8h1.4v1.4h-1.4zM248.8 522.8h1.4v1.4h-1.4zM241.8 524.8h1.4v1.4h-1.4zM237.8 525.8h1.4v1.4h-1.4zM233.8 526.8h1.4v1.4h-1.4zM220.8 529.8h1.4v1.4h-1.4zM207.8 532.8h1.4v1.4h-1.4zM203.8 533.8h1.4v1.4h-1.4zM194.8 535.8h1.4v1.4h-1.4zM190.8 536.8h1.4v1.4h-1.4zM181.8 538.8h1.4v1.4h-1.4zM177.8 539.8h1.4v1.4h-1.4z" fill="#383838" fill-opacity="1.00"/>
<path d="M933.8 281.8h1.4v1.4h-1.4zM928.8 282.8h1.4v1.4h-1.4zM930.8 282.8h1.4v1.4h-1.4zM925.8 283.8h1.4v1.4h-1.4zM922.8 285.8h1.4v1.4h-1.4zM917.8 286.8h1.4v1.4h-1.4zM919.8 286.8h1.4v1.4h-1.4zM914.8 287.8h1.4v1.4h-1.4zM908.8 290.8h1.4v1.4h-1.4zM903.8 291.8h1.4v1.4h-1.4zM905.8 291.8h1.4v1.4h-1.4zM900.8 292.8h1.4v1.4h-1.4zM897.8 294.8h1.4v1.4h-1.4zM892.8 295.8h1.4v1.4h-1.4zM894.8 295.8h1.4v1.4h-1.4zM889.8 296.8h1.4v1.4h-1.4zM886.8 298.8h1.4v1.4h-1.4zM883.8 299.8h1.4v1.4h-1.4zM878.8 300.8h1.4v1.4h-1.4zM875.8 301.8h1.4v1.4h-1.4zM872.8 303.8h1.4v1.4h-1.4zM867.8 304.8h1.4v1.4h-1.4zM869.8 304.8h1.4v1.4h-1.4zM864.8 305.8h1.4v1.4h-1.4zM861.8 307.8h1.4v1.4h-1.4zM858.8 308.8h1.4v1.4h-1.4zM853.8 309.8h1.4v1.4h-1.4zM850.8 310.8h1.4v1.4h-1.4zM847.8 312.8h1.4v1.4h-1.4zM842.8 313.8h1.4v1.4h-1.4zM844.8 313.8h1.4v1.4h-1.4zM839.8 314.8h1.4v1.4h-1.4zM836.8 316.8h1.4v1.4h-1.4zM831.8 317.8h1.4v1.4h-1.4zM833.8 317.8h1.4v1.4h-1.4zM828.8 318.8h1.4v1.4h-1.4zM822.8 321.8h1.4v1.4h-1.4zM817.8 322.8h1.4v1.4h-1.4zM819.8 322.8h1.4v1.4h-1.4zM814.8 323.8h1.4v1.4h-1.4zM811.8 325.8h1.4v1.4h-1.4zM808.8 326.8h1.4v1.4h-1.4zM804.8 327.8h1.4v1.4h-1.4zM806.8 327.8h1.4v1.4h-1.4zM797.8 331.8h1.4v1.4h-1.4zM793.8 332.8h1.4v1.4h-1.4zM795.8 332.8h1.4v1.4h-1.4zM791.8 333.8h1.4v1.4h-1.4zM786.8 336.8h1.4v1.4h-1.4zM782.8 337.8h1.4v1.4h-1.4zM784.8 337.8h1.4v1.4h-1.4zM780.8 338.8h1.4v1.4h-1.4zM775.8 341.8h1.4v1.4h-1.4zM771.8 342.8h1.4v1.4h-1.4zM773.8 342.8h1.4v1.4h-1.4zM769.8 343.8h1.4v1.4h-1.4zM764.8 346.8h1.4v1.4h-1.4zM760.8 347.8h1.4v1.4h-1.4zM762.8 347.8h1.4v1.4h-1.4zM758.8 348.8h1.4v1.4h-1.4zM753.8 351.8h1.4v1.4h-1.4zM749.8 352.8h1.4v1.4h-1.4zM751.8 352.8h1.4v1.4h-1.4zM747.8 353.8h1.4v1.4h-1.4zM738.8 357.8h1.4v1.4h-1.4zM740.8 357.8h1.4v1.4h-1.4zM736.8 358.8h1.4v1.4h-1.4zM729.8 362.8h1.4v1.4h-1.4zM725.8 363.8h1.4v1.4h-1.4zM727.8 363.8h1.4v1.4h-1.4zM718.8 367.8h1.4v1.4h-1.4zM714.8 368.8h1.4v1.4h-1.4zM716.8 368.8h1.4v1.4h-1.4zM712.8 369.8h1.4v1.4h-1.4zM707.8 372.8h1.4v1.4h-1.4zM703.8 373.8h1.4v1.4h-1.4zM705.8 373.8h1.4v1.4h-1.4zM701.8 374.8h1.4v1.4h-1.4zM696.8 377.8h1.4v1.4h-1.4zM692.8 378.8h1.4v1.4h-1.4zM694.8 378.8h1.4v1.4h-1.4zM690.8 379.8h1.4v1.4h-1.4zM685.8 382.8h1.4v1.4h-1.4zM681.8 383.8h1.4v1.4h-1.4zM683.8 383.8h1.4v1.4h-1.4zM679.8 384.8h1.4v1.4h-1.4zM672.8 388.8h1.4v1.4h-1.4zM668.8 389.8h1.4v1.4h-1.4zM670.8 389.8h1.4v1.4h-1.4zM661.8 393.8h1.4v1.4h-1.4zM657.8 394.8h1.4v1.4h-1.4zM659.8 394.8h1.4v1.4h-1.4zM655.8 395.8h1.4v1.4h-1.4zM650.8 398.8h1.4v1.4h-1.4zM646.8 399.8h1.4v1.4h-1.4zM648.8 399.8h1.4v1.4h-1.4zM644.8 400.8h1.4v1.4h-1.4zM639.8 403.8h1.4v1.4h-1.4zM635.8 404.8h1.4v1.4h-1.4zM637.8 404.8h1.4v1.4h-1.4zM633.8 405.8h1.4v1.4h-1.4zM626.8 409.8h1.4v1.4h-1.4zM622.8 410.8h1.4v1.4h-1.4zM624.8 410.8h1.4v1.4h-1.4zM615.8 414.8h1.4v1.4h-1.4zM611.8 415.8h1.4v1.4h-1.4zM613.8 415.8h1.4v1.4h-1.4zM609.8 416.8h1.4v1.4h-1.4zM604.8 419.8h1.4v1.4h-1.4zM600.8 420.8h1.4v1.4h-1.4zM602.8 420.8h1.4v1.4h-1.4zM598.8 421.8h1.4v1.4h-1.4zM589.8 425.8h1.4v1.4h-1.4zM591.8 425.8h1.4v1.4h-1.4zM587.8 426.8h1.4v1.4h-1.4zM580.8 430.8h1.4v1.4h-1.4zM576.8 431.8h1.4v1.4h-1.4zM578.8 431.8h1.4v1.4h-1.4zM574.8 432.8h1.4v1.4h-1.4zM569.8 435.8h1.4v1.4h-1.4zM565.8 436.8h1.4v1.4h-1.4zM567.8 436.8h1.4v1.4h-1.4zM563.8 437.8h1.4v1.4h-1.4zM558.8 440.8h1.4v1.4h-1.4zM554.8 441.8h1.4v1.4h-1.4zM556.8 441.8h1.4v1.4h-1.4zM542.8 446.8h1.4v1.4h-1.4zM544.8 446.8h1.4v1.4h-1.4zM537.8 448.8h1.4v1.4h-1.4zM539.8 448.8h1.4v1.4h-1.4zM532.8 450.8h1.4v1.4h-1.4zM534.8 450.8h1.4v1.4h-1.4zM527.8 452.8h1.4v1.4h-1.4zM529.8 452.8h1.4v1.4h-1.4zM522.8 454.8h1.4v1.4h-1.4zM515.8 457.8h1.4v1.4h-1.4zM517.8 457.8h1.4v1.4h-1.4zM510.8 459.8h1.4v1.4h-1.4zM512.8 459.8h1.4v1.4h-1.4zM505.8 461.8h1.4v1.4h-1.4zM507.8 461.8h1.4v1.4h-1.4zM500.8 463.8h1.4v1.4h-1.4zM502.8 463.8h1.4v1.4h-1.4zM495.8 465.8h1.4v1.4h-1.4zM497.8 465.8h1.4v1.4h-1.4zM490.8 467.8h1.4v1.4h-1.4zM487.8 468.8h1.4v1.4h-1.4zM484.8 469.8h1.4v1.4h-1.4zM481.8 470.8h1.4v1.4h-1.4zM478.8 471.8h1.4v1.4h-1.4zM475.8 472.8h1.4v1.4h-1.4zM472.8 473.8h1.4v1.4h-1.4zM469.8 474.8h1.4v1.4h-1.4zM468.8 475.8h1.4v1.4h-1.4zM465.8 476.8h1.4v1.4h-1.4zM462.8 477.8h1.4v1.4h-1.4zM459.8 478.8h1.4v1.4h-1.4zM456.8 479.8h1.4v1.4h-1.4zM453.8 480.8h1.4v1.4h-1.4zM450.8 481.8h1.4v1.4h-1.4zM447.8 482.8h1.4v1.4h-1.4zM444.8 483.8h1.4v1.4h-1.4zM438.8 484.8h1.4v1.4h-1.4zM435.8 485.8h1.4v1.4h-1.4zM432.8 486.8h1.4v1.4h-1.4zM429.8 487.8h1.4v1.4h-1.4zM426.8 488.8h1.4v1.4h-1.4zM423.8 489.8h1.4v1.4h-1.4zM420.8 490.8h1.4v1.4h-1.4zM417.8 491.8h1.4v1.4h-1.4zM414.8 492.8h1.4v1.4h-1.4zM413.8 493.8h1.4v1.4h-1.4zM410.8 494.8h1.4v1.4h-1.4zM407.8 495.8h1.4v1.4h-1.4zM404.8 496.8h1.4v1.4h-1.4zM401.8 497.8h1.4v1.4h-1.4zM398.8 498.8h1.4v1.4h-1.4zM395.8 499.8h1.4v1.4h-1.4zM392.8 500.8h1.4v1.4h-1.4zM389.8 501.8h1.4v1.4h-1.4zM383.8 502.8h1.4v1.4h-1.4zM380.8 503.8h1.4v1.4h-1.4zM377.8 504.8h1.4v1.4h-1.4zM374.8 505.8h1.4v1.4h-1.4zM371.8 506.8h1.4v1.4h-1.4zM368.8 507.8h1.4v1.4h-1.4zM365.8 508.8h1.4v1.4h-1.4zM361.8 509.8h1.4v1.4h-1.4zM357.8 510.8h1.4v1.4h-1.4zM360.8 510.8h1.4v1.4h-1.4zM356.8 511.8h1.4v1.4h-1.4zM348.8 512.8h1.4v1.4h-1.4zM344.8 513.8h1.4v1.4h-1.4zM347.8 513.8h1.4v1.4h-1.4zM343.8 514.8h1.4v1.4h-1.4zM335.8 515.8h1.4v1.4h-1.4zM331.8 516.8h1.4v1.4h-1.4zM334.8 516.8h1.4v1.4h-1.4zM330.8 517.8h1.4v1.4h-1.4zM322.8 518.8h1.4v1.4h-1.4zM326.8 518.8h1.4v1.4h-1.4zM318.8 519.8h1.4v1.4h-1.4zM317.8 520.8h1.4v1.4h-1.4zM309.8 521.8h1.4v1.4h-1.4zM313.8 521.8h1.4v1.4h-1.4zM305.8 522.8h1.4v1.4h-1.4zM301.8 523.8h1.4v1.4h-1.4zM304.8 523.8h1.4v1.4h-1.4zM295.8 524.8h1.4v1.4h-1.4zM300.8 524.8h1.4v1.4h-1.4zM288.8 525.8h1.4v1.4h-1.4zM293.8 525.8h1.4v1.4h-1.4zM282.8 526.8h1.4v1.4h-1.4zM287.8 526.8h1.4v1.4h-1.4zM276.8 527.8h1.4v1.4h-1.4zM281.8 527.8h1.4v1.4h-1.4zM270.8 528.8h1.4v1.4h-1.4zM275.8 528.8h1.4v1.4h-1.4zM264.8 529.8h1.4v1.4h-1.4zM269.8 529.8h1.4v1.4h-1.4zM258.8 530.8h1.4v1.4h-1.4zM263.8 530.8h1.4v1.4h-1.4zM252.8 531.8h1.4v1.4h-1.4zM256.8 531.8h1.4v1.4h-1.4zM245.8 532.8h1.4v1.4h-1.4zM250.8 532.8h1.4v1.4h-1.4zM239.8 533.8h1.4v1.4h-1.4zM244.8 533.8h1.4v1.4h-1.4zM231.8 534.8h1.4v1.4h-1.4zM238.8 534.8h1.4v1.4h-1.4zM222.8 535.8h1.4v1.4h-1.4zM229.8 535.8h2.4v1.4h-2.4zM213.8 536.8h1.4v1.4h-1.4zM220.8 536.8h1.4v1.4h-1.4zM204.8 537.8h1.4v1.4h-1.4zM211.8 537.8h1.4v1.4h-1.4zM195.8 538.8h1.4v1.4h-1.4zM202.8 538.8h1.4v1.4h-1.4zM186.8 539.8h1.4v1.4h-1.4zM193.8 539.8h1.4v1.4h-1.4zM177.8 540.8h1.4v1.4h-1.4zM184.8 540.8h1.4v1.4h-1.4zM175.8 541.8h1.4v1.4h-1.4z" fill="#c03c48" fill-opacity="0.25"/>
<path d="M931.8 281.8h1.4v1.4h-1.4zM927.8 283.8h1.4v1.4h-1.4zM920.8 285.8h1.4v1.4h-1.4zM916.8 287.8h1.4v1.4h-1.4zM913.8 288.8h1.4v1.4h-1.4zM909.8 289.8h1.4v1.4h-1.4zM906.8 290.8h1.4v1.4h-1.4zM902.8 292.8h1.4v1.4h-1.4zM895.8 294.8h1.4v1.4h-1.4zM891.8 296.8h1.4v1.4h-1.4zM888.8 297.8h1.4v1.4h-1.4zM884.8 298.8h1.4v1.4h-1.4zM881.8 299.8h1.4v1.4h-1.4zM880.8 300.8h1.4v1.4h-1.4zM877.8 301.8h1.4v1.4h-1.4zM870.8 303.8h1.4v1.4h-1.4zM866.8 305.8h1.4v1.4h-1.4zM859.8 307.8h1.4v1.4h-1.4zM856.8 308.8h1.4v1.4h-1.4zM855.8 309.8h1.4v1.4h-1.4zM852.8 310.8h1.4v1.4h-1.4zM848.8 311.8h1.4v1.4h-1.4zM845.8 312.8h1.4v1.4h-1.4zM841.8 314.8h1.4v1.4h-1.4zM834.8 316.8h1.4v1.4h-1.4zM830.8 318.8h1.4v1.4h-1.4zM827.8 319.8h1.4v1.4h-1.4zM823.8 320.8h1.4v1.4h-1.4zM820.8 321.8h1.4v1.4h-1.4zM816.8 323.8h1.4v1.4h-1.4zM809.8 325.8h1.4v1.4h-1.4zM802.8 328.8h1.4v1.4h-1.4zM800.8 329.8h2.4v1.4h-2.4zM799.8 330.8h1.4v1.4h-1.4zM789.8 334.8h1.4v1.4h-1.4zM788.8 335.8h1.4v1.4h-1.4zM778.8 339.8h1.4v1.4h-1.4zM777.8 340.8h1.4v1.4h-1.4zM767.8 344.8h1.4v1.4h-1.4zM766.8 345.8h1.4v1.4h-1.4zM756.8 349.8h1.4v1.4h-1.4zM755.8 350.8h1.4v1.4h-1.4zM745.8 354.8h1.4v1.4h-1.4zM743.8 355.8h2.4v1.4h-2.4zM742.8 356.8h1.4v1.4h-1.4zM734.8 359.8h1.4v1.4h-1.4zM732.8 360.8h2.4v1.4h-2.4zM731.8 361.8h1.4v1.4h-1.4zM723.8 364.8h1.4v1.4h-1.4zM721.8 365.8h1.4v1.4h-1.4zM720.8 366.8h1.4v1.4h-1.4zM710.8 370.8h1.4v1.4h-1.4zM709.8 371.8h1.4v1.4h-1.4zM699.8 375.8h1.4v1.4h-1.4zM698.8 376.8h1.4v1.4h-1.4zM688.8 380.8h1.4v1.4h-1.4zM687.8 381.8h1.4v1.4h-1.4zM677.8 385.8h1.4v1.4h-1.4zM675.8 386.8h2.4v1.4h-2.4zM674.8 387.8h1.4v1.4h-1.4zM666.8 390.8h1.4v1.4h-1.4zM664.8 391.8h2.4v1.4h-2.4zM663.8 392.8h1.4v1.4h-1.4zM653.8 396.8h1.4v1.4h-1.4zM652.8 397.8h1.4v1.4h-1.4zM642.8 401.8h1.4v1.4h-1.4zM641.8 402.8h1.4v1.4h-1.4zM631.8 406.8h1.4v1.4h-1.4zM629.8 407.8h2.4v1.4h-2.4zM628.8 408.8h1.4v1.4h-1.4zM620.8 411.8h1.4v1.4h-1.4zM618.8 412.8h1.4v1.4h-1.4zM617.8 413.8h1.4v1.4h-1.4zM607.8 417.8h1.4v1.4h-1.4zM606.8 418.8h1.4v1.4h-1.4zM596.8 422.8h1.4v1.4h-1.4zM595.8 423.8h1.4v1.4h-1.4zM593.8 424.8h1.4v1.4h-1.4zM585.8 427.8h1.4v1.4h-1.4zM583.8 428.8h2.4v1.4h-2.4zM582.8 429.8h1.4v1.4h-1.4zM572.8 433.8h1.4v1.4h-1.4zM571.8 434.8h1.4v1.4h-1.4zM561.8 438.8h1.4v1.4h-1.4zM560.8 439.8h1.4v1.4h-1.4zM552.8 442.8h1.4v1.4h-1.4zM551.8 443.8h1.4v1.4h-1.4zM547.8 444.8h1.4v1.4h-1.4zM546.8 445.8h1.4v1.4h-1.4zM541.8 447.8h1.4v1.4h-1.4zM530.8 451.8h1.4v1.4h-1.4zM525.8 453.8h1.4v1.4h-1.4zM524.8 454.8h1.4v1.4h-1.4zM520.8 455.8h1.4v1.4h-1.4zM519.8 456.8h1.4v1.4h-1.4zM514.8 458.8h1.4v1.4h-1.4zM509.8 460.8h1.4v1.4h-1.4zM503.8 462.8h1.4v1.4h-1.4zM498.8 464.8h1.4v1.4h-1.4zM493.8 466.8h1.4v1.4h-1.4zM492.8 467.8h1.4v1.4h-1.4zM489.8 468.8h1.4v1.4h-1.4zM486.8 469.8h1.4v1.4h-1.4zM483.8 470.8h1.4v1.4h-1.4zM480.8 471.8h1.4v1.4h-1.4zM477.8 472.8h1.4v1.4h-1.4zM474.8 473.8h1.4v1.4h-1.4zM471.8 474.8h1.4v1.4h-1.4zM466.8 475.8h1.4v1.4h-1.4zM463.8 476.8h1.4v1.4h-1.4zM460.8 477.8h1.4v1.4h-1.4zM457.8 478.8h1.4v1.4h-1.4zM454.8 479.8h1.4v1.4h-1.4zM451.8 480.8h1.4v1.4h-1.4zM448.8 481.8h1.4v1.4h-1.4zM434.8 486.8h1.4v1.4h-1.4zM431.8 487.8h1.4v1.4h-1.4zM428.8 488.8h1.4v1.4h-1.4zM425.8 489.8h1.4v1.4h-1.4zM422.8 490.8h1.4v1.4h-1.4zM419.8 491.8h1.4v1.4h-1.4zM416.8 492.8h1.4v1.4h-1.4zM411.8 493.8h1.4v1.4h-1.4zM408.8 494.8h1.4v1.4h-1.4zM405.8 495.8h1.4v1.4h-1.4zM402.8 496.8h1.4v1.4h-1.4zM399.8 497.8h1.4v1.4h-1.4zM396.8 498.8h1.4v1.4h-1.4zM393.8 499.8h1.4v1.4h-1.4zM379.8 504.8h1.4v1.4h-1.4zM376.8 505.8h1.4v1.4h-1.4zM373.8 506.8h1.4v1.4h-1.4zM370.8 507.8h1.4v1.4h-1.4zM367.8 508.8h1.4v1.4h-1.4zM364.8 509.8h1.4v1.4h-1.4zM353.8 511.8h1.4v1.4h-1.4zM355.8 511.8h1.4v1.4h-1.4zM351.8 512.8h1.4v1.4h-1.4zM340.8 514.8h1.4v1.4h-1.4zM336.8 515.8h1.4v1.4h-1.4zM338.8 515.8h1.4v1.4h-1.4zM327.8 517.8h1.4v1.4h-1.4zM323.8 518.8h1.4v1.4h-1.4zM325.8 518.8h1.4v1.4h-1.4zM321.8 519.8h1.4v1.4h-1.4zM314.8 520.8h1.4v1.4h-1.4zM310.8 521.8h1.4v1.4h-1.4zM312.8 521.8h1.4v1.4h-1.4zM308.8 522.8h1.4v1.4h-1.4zM299.8 524.8h1.4v1.4h-1.4zM289.8 525.8h1.4v1.4h-1.4zM283.8 526.8h1.4v1.4h-1.4zM286.8 526.8h1.4v1.4h-1.4zM277.8 527.8h1.4v1.4h-1.4zM280.8 527.8h1.4v1.4h-1.4zM271.8 528.8h1.4v1.4h-1.4zM274.8 528.8h1.4v1.4h-1.4zM265.8 529.8h1.4v1.4h-1.4zM268.8 529.8h1.4v1.4h-1.4zM262.8 530.8h1.4v1.4h-1.4zM246.8 532.8h1.4v1.4h-1.4zM249.8 532.8h1.4v1.4h-1.4zM240.8 533.8h1.4v1.4h-1.4zM243.8 533.8h1.4v1.4h-1.4zM232.8 534.8h2.4v1.4h-2.4zM237.8 534.8h1.4v1.4h-1.4zM223.8 535.8h2.4v1.4h-2.4zM228.8 535.8h1.4v1.4h-1.4zM214.8 536.8h1.4v1.4h-1.4zM219.8 536.8h1.4v1.4h-1.4zM205.8 537.8h1.4v1.4h-1.4zM210.8 537.8h1.4v1.4h-1.4zM196.8 538.8h1.4v1.4h-1.4zM201.8 538.8h1.4v1.4h-1.4zM187.8 539.8h1.4v1.4h-1.4zM192.8 539.8h1.4v1.4h-1.4zM178.8 540.8h1.4v1.4h-1.4zM183.8 540.8h1.4v1.4h-1.4zM174.8 541.8h1.4v1.4h-1.4z" fill="#c03c48" fill-opacity="0.50"/>
<path d="M926.8 283.8h1.4v1.4h-1.4zM923.8 284.8h2.4v1.4h-2.4zM921.8 285.8h1.4v1.4h-1.4zM912.8 288.8h1.4v1.4h-1.4zM910.8 289.8h1.4v1.4h-1.4zM901.8 292.8h1.4v1.4h-1.4zM898.8 293.8h2.4v1.4h-2.4zM896.8 294.8h1.4v1.4h-1.4zM887.8 297.8h1.4v1.4h-1.4zM885.8 298.8h1.4v1.4h-1.4zM876.8 301.8h1.4v1.4h-1.4zM873.8 302.8h2.4v1.4h-2.4zM871.8 303.8h1.4v1.4h-1.4zM865.8 305.8h1.4v1.4h-1.4zM862.8 306.8h2.4v1.4h-2.4zM860.8 307.8h1.4v1.4h-1.4zM851.8 310.8h1.4v1.4h-1.4zM849.8 311.8h1.4v1.4h-1.4zM840.8 314.8h1.4v1.4h-1.4zM837.8 315.8h2.4v1.4h-2.4zM835.8 316.8h1.4v1.4h-1.4zM826.8 319.8h1.4v1.4h-1.4zM824.8 320.8h1.4v1.4h-1.4zM815.8 323.8h1.4v1.4h-1.4zM812.8 324.8h2.4v1.4h-2.4zM810.8 325.8h1.4v1.4h-1.4zM803.8 328.8h1.4v1.4h-1.4zM798.8 330.8h1.4v1.4h-1.4zM792.8 333.8h1.4v1.4h-1.4zM790.8 334.8h1.4v1.4h-1.4zM787.8 335.8h1.4v1.4h-1.4zM781.8 338.8h1.4v1.4h-1.4zM779.8 339.8h1.4v1.4h-1.4zM776.8 340.8h1.4v1.4h-1.4zM774.8 341.8h1.4v1.4h-1.4zM770.8 343.8h1.4v1.4h-1.4zM768.8 344.8h1.4v1.4h-1.4zM765.8 345.8h1.4v1.4h-1.4zM763.8 346.8h1.4v1.4h-1.4zM757.8 349.8h1.4v1.4h-1.4zM754.8 350.8h1.4v1.4h-1.4zM752.8 351.8h1.4v1.4h-1.4zM746.8 354.8h1.4v1.4h-1.4zM741.8 356.8h1.4v1.4h-1.4zM735.8 359.8h1.4v1.4h-1.4zM730.8 361.8h1.4v1.4h-1.4zM724.8 364.8h1.4v1.4h-1.4zM722.8 365.8h1.4v1.4h-1.4zM719.8 366.8h1.4v1.4h-1.4zM713.8 369.8h1.4v1.4h-1.4zM711.8 370.8h1.4v1.4h-1.4zM708.8 371.8h1.4v1.4h-1.4zM702.8 374.8h1.4v1.4h-1.4zM700.8 375.8h1.4v1.4h-1.4zM697.8 376.8h1.4v1.4h-1.4zM695.8 377.8h1.4v1.4h-1.4zM689.8 380.8h1.4v1.4h-1.4zM686.8 381.8h1.4v1.4h-1.4zM684.8 382.8h1.4v1.4h-1.4zM678.8 385.8h1.4v1.4h-1.4zM673.8 387.8h1.4v1.4h-1.4zM667.8 390.8h1.4v1.4h-1.4zM662.8 392.8h1.4v1.4h-1.4zM656.8 395.8h1.4v1.4h-1.4zM654.8 396.8h1.4v1.4h-1.4zM651.8 397.8h1.4v1.4h-1.4zM649.8 398.8h1.4v1.4h-1.4zM643.8 401.8h1.4v1.4h-1.4zM640.8 402.8h1.4v1.4h-1.4zM638.8 403.8h1.4v1.4h-1.4zM632.8 406.8h1.4v1.4h-1.4zM627.8 408.8h1.4v1.4h-1.4zM621.8 411.8h1.4v1.4h-1.4zM619.8 412.8h1.4v1.4h-1.4zM616.8 413.8h1.4v1.4h-1.4zM610.8 416.8h1.4v1.4h-1.4zM608.8 417.8h1.4v1.4h-1.4zM605.8 418.8h1.4v1.4h-1.4zM603.8 419.8h1.4v1.4h-1.4zM597.8 422.8h1.4v1.4h-1.4zM594.8 423.8h1.4v1.4h-1.4zM592.8 424.8h1.4v1.4h-1.4zM586.8 427.8h1.4v1.4h-1.4zM581.8 429.8h1.4v1.4h-1.4zM575.8 432.8h1.4v1.4h-1.4zM573.8 433.8h1.4v1.4h-1.4zM570.8 434.8h1.4v1.4h-1.4zM564.8 437.8h1.4v1.4h-1.4zM562.8 438.8h1.4v1.4h-1.4zM559.8 439.8h1.4v1.4h-1.4zM557.8 440.8h1.4v1.4h-1.4zM553.8 442.8h1.4v1.4h-1.4zM550.8 443.8h1.4v1.4h-1.4zM548.8 444.8h1.4v1.4h-1.4zM545.8 445.8h1.4v1.4h-1.4zM540.8 447.8h1.4v1.4h-1.4zM535.8 449.8h2.4v1.4h-2.4zM531.8 451.8h1.4v1.4h-1.4zM526.8 453.8h1.4v1.4h-1.4zM523.8 454.8h1.4v1.4h-1.4zM521.8 455.8h1.4v1.4h-1.4zM518.8 456.8h1.4v1.4h-1.4zM513.8 458.8h1.4v1.4h-1.4zM508.8 460.8h1.4v1.4h-1.4zM504.8 462.8h1.4v1.4h-1.4zM499.8 464.8h1.4v1.4h-1.4zM494.8 466.8h1.4v1.4h-1.4zM491.8 467.8h1.4v1.4h-1.4zM488.8 468.8h1.4v1.4h-1.4zM485.8 469.8h1.4v1.4h-1.4zM482.8 470.8h1.4v1.4h-1.4zM455.8 479.8h1.4v1.4h-1.4zM452.8 480.8h1.4v1.4h-1.4zM449.8 481.8h1.4v1.4h-1.4zM445.8 482.8h2.4v1.4h-2.4zM442.8 483.8h2.4v1.4h-2.4zM439.8 484.8h2.4v1.4h-2.4zM436.8 485.8h2.4v1.4h-2.4zM433.8 486.8h1.4v1.4h-1.4zM430.8 487.8h1.4v1.4h-1.4zM427.8 488.8h1.4v1.4h-1.4zM400.8 497.8h1.4v1.4h-1.4zM397.8 498.8h1.4v1.4h-1.4zM394.8 499.8h1.4v1.4h-1.4zM390.8 500.8h2.4v1.4h-2.4zM387.8 501.8h2.4v1.4h-2.4zM384.8 502.8h2.4v1.4h-2.4zM381.8 503.8h2.4v1.4h-2.4zM378.8 504.8h1.4v1.4h-1.4zM375.8 505.8h1.4v1.4h-1.4zM372.8 506.8h1.4v1.4h-1.4zM362.8 509.8h1.4v1.4h-1.4zM358.8 510.8h2.4v1.4h-2.4zM349.8 512.8h1.4v1.4h-1.4zM345.8 513.8h2.4v1.4h-2.4zM342.8 514.8h1.4v1.4h-1.4zM332.8 516.8h2.4v1.4h-2.4zM329.8 517.8h1.4v1.4h-1.4zM319.8 519.8h2.4v1.4h-2.4zM315.8 520.8h2.4v1.4h-2.4zM306.8 522.8h1.4v1.4h-1.4zM302.8 523.8h2.4v1.4h-2.4zM296.8 524.8h1.4v1.4h-1.4zM298.8 524.8h1.4v1.4h-1.4zM290.8 525.8h1.4v1.4h-1.4zM292.8 525.8h1.4v1.4h-1.4zM284.8 526.8h1.4v1.4h-1.4zM278.8 527.8h1.4v1.4h-1.4zM272.8 528.8h2.4v1.4h-2.4zM267.8 529.8h1.4v1.4h-1.4zM259.8 530.8h1.4v1.4h-1.4zM261.8 530.8h1.4v1.4h-1.4zM253.8 531.8h1.4v1.4h-1.4zM255.8 531.8h1.4v1.4h-1.4zM247.8 532.8h1.4v1.4h-1.4zM241.8 533.8h1.4v1.4h-1.4zM234.8 534.8h1.4v1.4h-1.4zM236.8 534.8h1.4v1.4h-1.4zM225.8 535.8h1.4v1.4h-1.4zM227.8 535.8h1.4v1.4h-1.4zM215.8 536.8h2.4v1.4h-2.4zM218.8 536.8h1.4v1.4h-1.4zM206.8 537.8h2.4v1.4h-2.4zM209.8 537.8h1.4v1.4h-1.4zM197.8 538.8h1.4v1.4h-1.4zM200.8 538.8h1.4v1.4h-1.4zM188.8 539.8h1.4v1.4h-1.4zM191.8 539.8h1.4v1.4h-1.4zM179.8 540.8h1.4v1.4h-1.4zM182.8 540.8h1.4v1.4h-1.4z" fill="#c03c48" fill-opacity="0.75"/>
<path d="M932.8 281.8h1.4v1.4h-1.4zM929.8 282.8h1.4v1.4h-1.4zM918.8 286.8h1.4v1.4h-1.4zM915.8 287.8h1.4v1.4h-1.4zM907.8 290.8h1.4v1.4h-1.4zM904.8 291.8h1.4v1.4h-1.4zM893.8 295.8h1.4v1.4h-1.4zM890.8 296.8h1.4v1.4h-1.4zM882.8 299.8h1.4v1.4h-1.4zM879.8 300.8h1.4v1.4h-1.4zM868.8 304.8h1.4v1.4h-1.4zM857.8 308.8h1.4v1.4h-1.4zM854.8 309.8h1.4v1.4h-1.4zM846.8 312.8h1.4v1.4h-1.4zM843.8 313.8h1.4v1.4h-1.4zM832.8 317.8h1.4v1.4h-1.4zM829.8 318.8h1.4v1.4h-1.4zM821.8 321.8h1.4v1.4h-1.4zM818.8 322.8h1.4v1.4h-1.4zM807.8 326.8h1.4v1.4h-1.4zM805.8 327.8h1.4v1.4h-1.4zM796.8 331.8h1.4v1.4h-1.4zM794.8 332.8h1.4v1.4h-1.4zM785.8 336.8h1.4v1.4h-1.4zM783.8 337.8h1.4v1.4h-1.4zM772.8 342.8h1.4v1.4h-1.4zM761.8 347.8h1.4v1.4h-1.4zM759.8 348.8h1.4v1.4h-1.4zM750.8 352.8h1.4v1.4h-1.4zM748.8 353.8h1.4v1.4h-1.4zM739.8 357.8h1.4v1.4h-1.4zM737.8 358.8h1.4v1.4h-1.4zM728.8 362.8h1.4v1.4h-1.4zM726.8 363.8h1.4v1.4h-1.4zM717.8 367.8h1.4v1.4h-1.4zM715.8 368.8h1.4v1.4h-1.4zM706.8 372.8h1.4v1.4h-1.4zM704.8 373.8h1.4v1.4h-1.4zM693.8 378.8h1.4v1.4h-1.4zM691.8 379.8h1.4v1.4h-1.4zM682.8 383.8h1.4v1.4h-1.4zM680.8 384.8h1.4v1.4h-1.4zM671.8 388.8h1.4v1.4h-1.4zM669.8 389.8h1.4v1.4h-1.4zM660.8 393.8h1.4v1.4h-1.4zM658.8 394.8h1.4v1.4h-1.4zM647.8 399.8h1.4v1.4h-1.4zM645.8 400.8h1.4v1.4h-1.4zM636.8 404.8h1.4v1.4h-1.4zM634.8 405.8h1.4v1.4h-1.4zM625.8 409.8h1.4v1.4h-1.4zM623.8 410.8h1.4v1.4h-1.4zM614.8 414.8h1.4v1.4h-1.4zM612.8 415.8h1.4v1.4h-1.4zM601.8 420.8h1.4v1.4h-1.4zM599.8 421.8h1.4v1.4h-1.4zM590.8 425.8h1.4v1.4h-1.4zM588.8 426.8h1.4v1.4h-1.4zM579.8 430.8h1.4v1.4h-1.4zM577.8 431.8h1.4v1.4h-1.4zM568.8 435.8h1.4v1.4h-1.4zM566.8 436.8h1.4v1.4h-1.4zM555.8 441.8h1.4v1.4h-1.4zM543.8 446.8h1.4v1.4h-1.4zM538.8 448.8h1.4v1.4h-1.4zM533.8 450.8h1.4v1.4h-1.4zM528.8 452.8h1.4v1.4h-1.4zM516.8 457.8h1.4v1.4h-1.4zM511.8 459.8h1.4v1.4h-1.4zM506.8 461.8h1.4v1.4h-1.4zM501.8 463.8h1.4v1.4h-1.4zM496.8 465.8h1.4v1.4h-1.4zM479.8 471.8h1.4v1.4h-1.4zM476.8 472.8h1.4v1.4h-1.4zM473.8 473.8h1.4v1.4h-1.4zM470.8 474.8h1.4v1.4h-1.4zM467.8 475.8h1.4v1.4h-1.4zM464.8 476.8h1.4v1.4h-1.4zM461.8 477.8h1.4v1.4h-1.4zM458.8 478.8h1.4v1.4h-1.4zM424.8 489.8h1.4v1.4h-1.4zM421.8 490.8h1.4v1.4h-1.4zM418.8 491.8h1.4v1.4h-1.4zM415.8 492.8h1.4v1.4h-1.4zM412.8 493.8h1.4v1.4h-1.4zM409.8 494.8h1.4v1.4h-1.4zM406.8 495.8h1.4v1.4h-1.4zM403.8 496.8h1.4v1.4h-1.4zM369.8 507.8h1.4v1.4h-1.4zM366.8 508.8h1.4v1.4h-1.4zM363.8 509.8h1.4v1.4h-1.4zM354.8 511.8h1.4v1.4h-1.4zM350.8 512.8h1.4v1.4h-1.4zM341.8 514.8h1.4v1.4h-1.4zM337.8 515.8h1.4v1.4h-1.4zM328.8 517.8h1.4v1.4h-1.4zM324.8 518.8h1.4v1.4h-1.4zM311.8 521.8h1.4v1.4h-1.4zM307.8 522.8h1.4v1.4h-1.4zM297.8 524.8h1.4v1.4h-1.4zM291.8 525.8h1.4v1.4h-1.4zM285.8 526.8h1.4v1.4h-1.4zM279.8 527.8h1.4v1.4h-1.4zM266.8 529.8h1.4v1.4h-1.4zM260.8 530.8h1.4v1.4h-1.4zM254.8 531.8h1.4v1.4h-1.4zM248.8 532.8h1.4v1.4h-1.4zM242.8 533.8h1.4v1.4h-1.4zM235.8 534.8h1.4v1.4h-1.4zM226.8 535.8h1.4v1.4h-1.4zM217.8 536.8h1.4v1.4h-1.4zM208.8 537.8h1.4v1.4h-1.4zM198.8 538.8h2.4v1.4h-2.4zM189.8 539.8h2.4v1.4h-2.4zM180.8 540.8h2.4v1.4h-2.4z" fill="#c03c48" fill-opacity="1.00"/>
<path d="M681.8 407.8h1.4v1.4h-1.4zM682.8 408.8h1.4v1.4h-1.4zM685.8 409.8h1.4v1.4h-1.4zM688.8 409.8h1.4v1.4h-1.4zM551.8 410.8h1.4v1.4h-1.4zM554.8 410.8h1.4v1.4h-1.4zM689.8 410.8h1.4v1.4h-1.4zM547.8 411.8h1.4v1.4h-1.4zM550.8 411.8h1.4v1.4h-1.4zM692.8 411.8h1.4v1.4h-1.4zM695.8 411.8h1.4v1.4h-1.4zM696.8 412.8h1.4v1.4h-1.4zM699.8 413.8h1.4v1.4h-1.4zM702.8 413.8h1.4v1.4h-1.4zM536.8 414.8h1.4v1.4h-1.4zM539.8 414.8h1.4v1.4h-1.4zM703.8 414.8h1.4v1.4h-1.4zM532.8 415.8h1.4v1.4h-1.4zM535.8 415.8h1.4v1.4h-1.4zM709.8 415.8h1.4v1.4h-1.4zM710.8 416.8h1.4v1.4h-1.4zM525.8 417.8h1.4v1.4h-1.4zM528.8 417.8h1.4v1.4h-1.4zM716.8 417.8h1.4v1.4h-1.4zM521.8 418.8h1.4v1.4h-1.4zM524.8 418.8h1.4v1.4h-1.4zM717.8 418.8h1.4v1.4h-1.4zM723.8 419.8h1.4v1.4h-1.4zM724.8 420.8h1.4v1.4h-1.4zM510.8 421.8h1.4v1.4h-1.4zM513.8 421.8h1.4v1.4h-1.4zM730.8 421.8h1.4v1.4h-1.4zM506.8 422.8h1.4v1.4h-1.4zM509.8 422.8h1.4v1.4h-1.4zM731.8 422.8h1.4v1.4h-1.4zM734.8 422.8h1.4v1.4h-1.4zM737.8 423.8h1.4v1.4h-1.4zM738.8 424.8h1.4v1.4h-1.4zM741.8 424.8h1.4v1.4h-1.4zM495.8 425.8h1.4v1.4h-1.4zM498.8 425.8h1.4v1.4h-1.4zM744.8 425.8h1.4v1.4h-1.4zM491.8 426.8h1.4v1.4h-1.4zM494.8 426.8h1.4v1.4h-1.4zM745.8 426.8h1.4v1.4h-1.4zM748.8 426.8h1.4v1.4h-1.4zM488.8 428.8h1.4v1.4h-1.4zM752.8 428.8h1.4v1.4h-1.4zM755.8 428.8h1.4v1.4h-1.4zM483.8 429.8h1.4v1.4h-1.4zM485.8 429.8h1.4v1.4h-1.4zM480.8 430.8h1.4v1.4h-1.4zM759.8 430.8h1.4v1.4h-1.4zM762.8 430.8h1.4v1.4h-1.4zM475.8 432.8h1.4v1.4h-1.4zM477.8 432.8h1.4v1.4h-1.4zM766.8 432.8h1.4v1.4h-1.4zM769.8 432.8h1.4v1.4h-1.4zM472.8 433.8h1.4v1.4h-1.4zM773.8 434.8h1.4v1.4h-1.4zM776.8 434.8h1.4v1.4h-1.4zM469.8 435.8h1.4v1.4h-1.4zM464.8 436.8h1.4v1.4h-1.4zM466.8 436.8h1.4v1.4h-1.4zM780.8 436.8h1.4v1.4h-1.4zM783.8 436.8h1.4v1.4h-1.4zM461.8 438.8h1.4v1.4h-1.4zM787.8 438.8h1.4v1.4h-1.4zM790.8 438.8h1.4v1.4h-1.4zM456.8 439.8h1.4v1.4h-1.4zM458.8 439.8h1.4v1.4h-1.4zM453.8 440.8h1.4v1.4h-1.4zM794.8 440.8h1.4v1.4h-1.4zM797.8 440.8h1.4v1.4h-1.4zM450.8 442.8h1.4v1.4h-1.4zM801.8 442.8h1.4v1.4h-1.4zM804.8 442.8h1.4v1.4h-1.4zM445.8 443.8h1.4v1.4h-1.4zM808.8 444.8h1.4v1.4h-1.4zM442.8 445.8h1.4v1.4h-1.4zM812.8 445.8h1.4v1.4h-1.4zM437.8 446.8h1.4v1.4h-1.4zM439.8 446.8h1.4v1.4h-1.4zM817.8 448.8h1.4v1.4h-1.4zM429.8 449.8h1.4v1.4h-1.4zM431.8 449.8h1.4v1.4h-1.4zM819.8 449.8h1.4v1.4h-1.4zM821.8 449.8h1.4v1.4h-1.4zM426.8 450.8h1.4v1.4h-1.4zM423.8 452.8h1.4v1.4h-1.4zM826.8 452.8h1.4v1.4h-1.4zM418.8 453.8h1.4v1.4h-1.4zM828.8 453.8h1.4v1.4h-1.4zM830.8 453.8h1.4v1.4h-1.4zM832.8 454.8h1.4v1.4h-1.4zM415.8 455.8h1.4v1.4h-1.4zM410.8 456.8h1.4v1.4h-1.4zM412.8 456.8h1.4v1.4h-1.4zM407.8 457.8h1.4v1.4h-1.4zM837.8 457.8h1.4v1.4h-1.4zM839.8 457.8h1.4v1.4h-1.4zM841.8 458.8h1.4v1.4h-1.4zM402.8 459.8h1.4v1.4h-1.4zM404.8 459.8h1.4v1.4h-1.4zM399.8 460.8h1.4v1.4h-1.4zM846.8 461.8h1.4v1.4h-1.4zM848.8 461.8h1.4v1.4h-1.4zM396.8 462.8h1.4v1.4h-1.4zM850.8 462.8h1.4v1.4h-1.4zM391.8 463.8h1.4v1.4h-1.4zM393.8 463.8h1.4v1.4h-1.4zM388.8 465.8h1.4v1.4h-1.4zM855.8 465.8h1.4v1.4h-1.4zM383.8 466.8h1.4v1.4h-1.4zM385.8 466.8h1.4v1.4h-1.4zM857.8 466.8h1.4v1.4h-1.4zM859.8 466.8h1.4v1.4h-1.4zM380.8 467.8h1.4v1.4h-1.4zM377.8 469.8h1.4v1.4h-1.4zM864.8 469.8h1.4v1.4h-1.4zM372.8 470.8h1.4v1.4h-1.4zM866.8 470.8h1.4v1.4h-1.4zM868.8 470.8h1.4v1.4h-1.4zM369.8 472.8h1.4v1.4h-1.4zM364.8 473.8h1.4v1.4h-1.4zM366.8 473.8h1.4v1.4h-1.4zM875.8 474.8h1.4v1.4h-1.4zM877.8 474.8h1.4v1.4h-1.4zM359.8 475.8h1.4v1.4h-1.4zM361.8 475.8h1.4v1.4h-1.4zM879.8 475.8h1.4v1.4h-1.4zM356.8 477.8h1.4v1.4h-1.4zM884.8 478.8h1.4v1.4h-1.4zM886.8 478.8h1.4v1.4h-1.4zM888.8 479.8h1.4v1.4h-1.4zM346.8 480.8h1.4v1.4h-1.4zM341.8 482.8h1.4v1.4h-1.4zM343.8 482.8h1.4v1.4h-1.4zM893.8 482.8h1.4v1.4h-1.4zM895.8 483.8h1.4v1.4h-1.4zM897.8 483.8h1.4v1.4h-1.4zM336.8 484.8h1.4v1.4h-1.4zM338.8 484.8h1.4v1.4h-1.4zM331.8 486.8h1.4v1.4h-1.4zM333.8 486.8h1.4v1.4h-1.4zM902.8 486.8h1.4v1.4h-1.4zM904.8 487.8h1.4v1.4h-1.4zM906.8 487.8h1.4v1.4h-1.4zM328.8 488.8h1.4v1.4h-1.4zM318.8 491.8h1.4v1.4h-1.4zM913.8 491.8h1.4v1.4h-1.4zM915.8 491.8h1.4v1.4h-1.4zM917.8 492.8h1.4v1.4h-1.4zM313.8 493.8h1.4v1.4h-1.4zM315.8 493.8h1.4v1.4h-1.4zM308.8 495.8h1.4v1.4h-1.4zM310.8 495.8h1.4v1.4h-1.4zM922.8 495.8h1.4v1.4h-1.4zM924.8 495.8h1.4v1.4h-1.4zM926.8 496.8h1.4v1.4h-1.4zM303.8 497.8h1.4v1.4h-1.4zM305.8 497.8h1.4v1.4h-1.4zM297.8 499.8h1.4v1.4h-1.4zM931.8 499.8h1.4v1.4h-1.4zM294.8 500.8h1.4v1.4h-1.4zM933.8 500.8h1.4v1.4h-1.4zM291.8 501.8h1.4v1.4h-1.4zM287.8 503.8h1.4v1.4h-1.4zM284.8 504.8h1.4v1.4h-1.4zM281.8 505.8h1.4v1.4h-1.4zM275.8 506.8h1.4v1.4h-1.4zM272.8 507.8h1.4v1.4h-1.4zM269.8 508.8h1.4v1.4h-1.4zM266.8 509.8h1.4v1.4h-1.4zM265.8 510.8h1.4v1.4h-1.4zM262.8 511.8h1.4v1.4h-1.4zM259.8 512.8h1.4v1.4h-1.4zM253.8 513.8h1.4v1.4h-1.4zM250.8 514.8h1.4v1.4h-1.4zM247.8 515.8h1.4v1.4h-1.4zM244.8 516.8h1.4v1.4h-1.4zM243.8 517.8h1.4v1.4h-1.4zM240.8 518.8h1.4v1.4h-1.4zM237.8 519.8h1.4v1.4h-1.4zM233.8 520.8h1.4v1.4h-1.4zM229.8 521.8h1.4v1.4h-1.4zM221.8 522.8h1.4v1.4h-1.4zM217.8 523.8h1.4v1.4h-1.4zM213.8 524.8h1.4v1.4h-1.4zM209.8 525.8h1.4v1.4h-1.4zM212.8 525.8h1.4v1.4h-1.4zM205.8 526.8h1.4v1.4h-1.4zM208.8 526.8h1.4v1.4h-1.4zM201.8 527.8h1.4v1.4h-1.4zM204.8 527.8h1.4v1.4h-1.4zM197.8 528.8h1.4v1.4h-1.4zM200.8 528.8h1.4v1.4h-1.4zM196.8 529.8h1.4v1.4h-1.4zM192.8 530.8h1.4v1.4h-1.4zM188.8 531.8h1.4v1.4h-1.4zM184.8 532.8h1.4v1.4h-1.4zM176.8 533.8h1.4v1.4h-1.4z" fill="#2c2ca8" fill-opacity="0.25"/>
<path d="M684.8 408.8h1.4v1.4h-1.4zM691.8 410.8h1.4v1.4h-1.4zM544.8 412.8h1.4v1.4h-1.4zM546.8 412.8h1.4v1.4h-1.4zM698.8 412.8h1.4v1.4h-1.4zM540.8 413.8h1.4v1.4h-1.4zM542.8 413.8h1.4v1.4h-1.4zM700.8 413.8h1.4v1.4h-1.4zM705.8 414.8h1.4v1.4h-1.4zM707.8 415.8h1.4v1.4h-1.4zM529.8 416.8h1.4v1.4h-1.4zM531.8 416.8h1.4v1.4h-1.4zM712.8 416.8h1.4v1.4h-1.4zM527.8 417.8h1.4v1.4h-1.4zM714.8 417.8h1.4v1.4h-1.4zM719.8 418.8h1.4v1.4h-1.4zM518.8 419.8h1.4v1.4h-1.4zM520.8 419.8h1.4v1.4h-1.4zM721.8 419.8h1.4v1.4h-1.4zM514.8 420.8h1.4v1.4h-1.4zM516.8 420.8h1.4v1.4h-1.4zM726.8 420.8h1.4v1.4h-1.4zM728.8 421.8h1.4v1.4h-1.4zM503.8 423.8h1.4v1.4h-1.4zM505.8 423.8h1.4v1.4h-1.4zM735.8 423.8h1.4v1.4h-1.4zM499.8 424.8h1.4v1.4h-1.4zM501.8 424.8h1.4v1.4h-1.4zM742.8 425.8h1.4v1.4h-1.4zM490.8 427.8h1.4v1.4h-1.4zM749.8 427.8h1.4v1.4h-1.4zM751.8 427.8h1.4v1.4h-1.4zM486.8 428.8h1.4v1.4h-1.4zM756.8 429.8h1.4v1.4h-1.4zM758.8 429.8h1.4v1.4h-1.4zM482.8 430.8h1.4v1.4h-1.4zM478.8 431.8h1.4v1.4h-1.4zM763.8 431.8h1.4v1.4h-1.4zM765.8 431.8h1.4v1.4h-1.4zM474.8 433.8h1.4v1.4h-1.4zM770.8 433.8h1.4v1.4h-1.4zM772.8 433.8h1.4v1.4h-1.4zM467.8 435.8h1.4v1.4h-1.4zM777.8 435.8h1.4v1.4h-1.4zM779.8 435.8h1.4v1.4h-1.4zM463.8 437.8h1.4v1.4h-1.4zM784.8 437.8h1.4v1.4h-1.4zM786.8 437.8h1.4v1.4h-1.4zM459.8 438.8h1.4v1.4h-1.4zM791.8 439.8h1.4v1.4h-1.4zM793.8 439.8h1.4v1.4h-1.4zM455.8 440.8h1.4v1.4h-1.4zM451.8 441.8h1.4v1.4h-1.4zM798.8 441.8h1.4v1.4h-1.4zM800.8 441.8h1.4v1.4h-1.4zM448.8 442.8h1.4v1.4h-1.4zM447.8 443.8h1.4v1.4h-1.4zM805.8 443.8h1.4v1.4h-1.4zM807.8 443.8h1.4v1.4h-1.4zM440.8 445.8h1.4v1.4h-1.4zM814.8 446.8h1.4v1.4h-1.4zM436.8 447.8h1.4v1.4h-1.4zM815.8 447.8h1.4v1.4h-1.4zM432.8 448.8h1.4v1.4h-1.4zM428.8 450.8h1.4v1.4h-1.4zM823.8 450.8h1.4v1.4h-1.4zM824.8 451.8h1.4v1.4h-1.4zM421.8 452.8h1.4v1.4h-1.4zM420.8 453.8h1.4v1.4h-1.4zM417.8 454.8h1.4v1.4h-1.4zM413.8 455.8h1.4v1.4h-1.4zM833.8 455.8h2.4v1.4h-2.4zM835.8 456.8h1.4v1.4h-1.4zM409.8 457.8h1.4v1.4h-1.4zM405.8 458.8h1.4v1.4h-1.4zM843.8 459.8h1.4v1.4h-1.4zM401.8 460.8h1.4v1.4h-1.4zM844.8 460.8h1.4v1.4h-1.4zM394.8 462.8h1.4v1.4h-1.4zM852.8 463.8h1.4v1.4h-1.4zM390.8 464.8h1.4v1.4h-1.4zM853.8 464.8h1.4v1.4h-1.4zM386.8 465.8h1.4v1.4h-1.4zM382.8 467.8h1.4v1.4h-1.4zM861.8 467.8h1.4v1.4h-1.4zM378.8 468.8h1.4v1.4h-1.4zM862.8 468.8h1.4v1.4h-1.4zM375.8 469.8h1.4v1.4h-1.4zM374.8 470.8h1.4v1.4h-1.4zM870.8 471.8h1.4v1.4h-1.4zM367.8 472.8h1.4v1.4h-1.4zM871.8 472.8h2.4v1.4h-2.4zM873.8 473.8h1.4v1.4h-1.4zM363.8 474.8h1.4v1.4h-1.4zM358.8 476.8h1.4v1.4h-1.4zM881.8 476.8h1.4v1.4h-1.4zM354.8 477.8h1.4v1.4h-1.4zM882.8 477.8h1.4v1.4h-1.4zM353.8 478.8h1.4v1.4h-1.4zM349.8 479.8h1.4v1.4h-1.4zM348.8 480.8h1.4v1.4h-1.4zM890.8 480.8h1.4v1.4h-1.4zM344.8 481.8h1.4v1.4h-1.4zM891.8 481.8h1.4v1.4h-1.4zM339.8 483.8h1.4v1.4h-1.4zM899.8 484.8h1.4v1.4h-1.4zM335.8 485.8h1.4v1.4h-1.4zM900.8 485.8h1.4v1.4h-1.4zM330.8 487.8h1.4v1.4h-1.4zM326.8 488.8h1.4v1.4h-1.4zM908.8 488.8h1.4v1.4h-1.4zM325.8 489.8h1.4v1.4h-1.4zM909.8 489.8h2.4v1.4h-2.4zM321.8 490.8h1.4v1.4h-1.4zM911.8 490.8h1.4v1.4h-1.4zM320.8 491.8h1.4v1.4h-1.4zM316.8 492.8h1.4v1.4h-1.4zM919.8 493.8h1.4v1.4h-1.4zM311.8 494.8h1.4v1.4h-1.4zM920.8 494.8h1.4v1.4h-1.4zM307.8 496.8h1.4v1.4h-1.4zM928.8 497.8h1.4v1.4h-1.4zM302.8 498.8h1.4v1.4h-1.4zM929.8 498.8h1.4v1.4h-1.4zM296.8 500.8h1.4v1.4h-1.4zM293.8 501.8h1.4v1.4h-1.4zM288.8 502.8h1.4v1.4h-1.4zM290.8 502.8h1.4v1.4h-1.4zM285.8 503.8h1.4v1.4h-1.4zM282.8 504.8h1.4v1.4h-1.4zM274.8 507.8h1.4v1.4h-1.4zM271.8 508.8h1.4v1.4h-1.4zM268.8 509.8h1.4v1.4h-1.4zM263.8 510.8h1.4v1.4h-1.4zM260.8 511.8h1.4v1.4h-1.4zM252.8 514.8h1.4v1.4h-1.4zM249.8 515.8h1.4v1.4h-1.4zM246.8 516.8h1.4v1.4h-1.4zM241.8 517.8h1.4v1.4h-1.4zM238.8 518.8h1.4v1.4h-1.4zM234.8 519.8h1.4v1.4h-1.4zM230.8 520.8h1.4v1.4h-1.4zM232.8 520.8h1.4v1.4h-1.4zM226.8 521.8h1.4v1.4h-1.4zM228.8 521.8h1.4v1.4h-1.4zM222.8 522.8h1.4v1.4h-1.4zM224.8 522.8h1.4v1.4h-1.4zM218.8 523.8h1.4v1.4h-1.4zM220.8 523.8h1.4v1.4h-1.4zM216.8 524.8h1.4v1.4h-1.4zM193.8 529.8h1.4v1.4h-1.4zM189.8 530.8h1.4v1.4h-1.4zM185.8 531.8h1.4v1.4h-1.4zM187.8 531.8h1.4v1.4h-1.4zM181.8 532.8h1.4v1.4h-1.4zM183.8 532.8h1.4v1.4h-1.4zM177.8 533.8h1.4v1.4h-1.4zM179.8 533.8h1.4v1.4h-1.4zM175.8 534.8h1.4v1.4h-1.4z" fill="#2c2ca8" fill-opacity="0.50"/>
<path d="M686.8 409.8h2.4v1.4h-2.4zM552.8 410.8h2.4v1.4h-2.4zM548.8 411.8h2.4v1.4h-2.4zM693.8 411.8h2.4v1.4h-2.4zM701.8 413.8h1.4v1.4h-1.4zM537.8 414.8h2.4v1.4h-2.4zM533.8 415.8h2.4v1.4h-2.4zM708.8 415.8h1.4v1.4h-1.4zM715.8 417.8h1.4v1.4h-1.4zM522.8 418.8h2.4v1.4h-2.4zM718.8 418.8h1.4v1.4h-1.4zM725.8 420.8h1.4v1.4h-1.4zM511.8 421.8h2.4v1.4h-2.4zM507.8 422.8h2.4v1.4h-2.4zM732.8 422.8h2.4v1.4h-2.4zM739.8 424.8h2.4v1.4h-2.4zM496.8 425.8h2.4v1.4h-2.4zM492.8 426.8h2.4v1.4h-2.4zM746.8 426.8h2.4v1.4h-2.4zM489.8 427.8h1.4v1.4h-1.4zM487.8 428.8h1.4v1.4h-1.4zM753.8 428.8h2.4v1.4h-2.4zM481.8 430.8h1.4v1.4h-1.4zM760.8 430.8h2.4v1.4h-2.4zM479.8 431.8h1.4v1.4h-1.4zM767.8 432.8h2.4v1.4h-2.4zM470.8 434.8h2.4v1.4h-2.4zM774.8 434.8h2.4v1.4h-2.4zM781.8 436.8h2.4v1.4h-2.4zM462.8 437.8h1.4v1.4h-1.4zM460.8 438.8h1.4v1.4h-1.4zM788.8 438.8h2.4v1.4h-2.4zM454.8 440.8h1.4v1.4h-1.4zM795.8 440.8h2.4v1.4h-2.4zM452.8 441.8h1.4v1.4h-1.4zM802.8 442.8h2.4v1.4h-2.4zM443.8 444.8h2.4v1.4h-2.4zM441.8 445.8h1.4v1.4h-1.4zM813.8 446.8h1.4v1.4h-1.4zM435.8 447.8h1.4v1.4h-1.4zM816.8 447.8h1.4v1.4h-1.4zM433.8 448.8h1.4v1.4h-1.4zM427.8 450.8h1.4v1.4h-1.4zM822.8 450.8h1.4v1.4h-1.4zM424.8 451.8h2.4v1.4h-2.4zM825.8 451.8h1.4v1.4h-1.4zM827.8 452.8h1.4v1.4h-1.4zM416.8 454.8h1.4v1.4h-1.4zM831.8 454.8h1.4v1.4h-1.4zM414.8 455.8h1.4v1.4h-1.4zM836.8 456.8h1.4v1.4h-1.4zM408.8 457.8h1.4v1.4h-1.4zM406.8 458.8h1.4v1.4h-1.4zM842.8 459.8h1.4v1.4h-1.4zM400.8 460.8h1.4v1.4h-1.4zM845.8 460.8h1.4v1.4h-1.4zM397.8 461.8h2.4v1.4h-2.4zM851.8 463.8h1.4v1.4h-1.4zM389.8 464.8h1.4v1.4h-1.4zM854.8 464.8h1.4v1.4h-1.4zM387.8 465.8h1.4v1.4h-1.4zM381.8 467.8h1.4v1.4h-1.4zM860.8 467.8h1.4v1.4h-1.4zM379.8 468.8h1.4v1.4h-1.4zM863.8 468.8h1.4v1.4h-1.4zM865.8 469.8h1.4v1.4h-1.4zM370.8 471.8h2.4v1.4h-2.4zM869.8 471.8h1.4v1.4h-1.4zM368.8 472.8h1.4v1.4h-1.4zM874.8 473.8h1.4v1.4h-1.4zM362.8 474.8h1.4v1.4h-1.4zM878.8 475.8h1.4v1.4h-1.4zM357.8 476.8h1.4v1.4h-1.4zM880.8 476.8h1.4v1.4h-1.4zM883.8 477.8h1.4v1.4h-1.4zM352.8 478.8h1.4v1.4h-1.4zM350.8 479.8h1.4v1.4h-1.4zM889.8 480.8h1.4v1.4h-1.4zM345.8 481.8h1.4v1.4h-1.4zM892.8 481.8h1.4v1.4h-1.4zM340.8 483.8h1.4v1.4h-1.4zM898.8 484.8h1.4v1.4h-1.4zM334.8 485.8h1.4v1.4h-1.4zM901.8 485.8h1.4v1.4h-1.4zM903.8 486.8h1.4v1.4h-1.4zM329.8 487.8h1.4v1.4h-1.4zM907.8 488.8h1.4v1.4h-1.4zM324.8 489.8h1.4v1.4h-1.4zM322.8 490.8h1.4v1.4h-1.4zM912.8 490.8h1.4v1.4h-1.4zM317.8 492.8h1.4v1.4h-1.4zM916.8 492.8h1.4v1.4h-1.4zM918.8 493.8h1.4v1.4h-1.4zM312.8 494.8h1.4v1.4h-1.4zM921.8 494.8h1.4v1.4h-1.4zM306.8 496.8h1.4v1.4h-1.4zM927.8 497.8h1.4v1.4h-1.4zM301.8 498.8h1.4v1.4h-1.4zM930.8 498.8h1.4v1.4h-1.4zM298.8 499.8h2.4v1.4h-2.4zM295.8 500.8h1.4v1.4h-1.4zM283.8 504.8h1.4v1.4h-1.4zM279.8 505.8h2.4v1.4h-2.4zM276.8 506.8h2.4v1.4h-2.4zM273.8 507.8h1.4v1.4h-1.4zM261.8 511.8h1.4v1.4h-1.4zM257.8 512.8h2.4v1.4h-2.4zM254.8 513.8h2.4v1.4h-2.4zM251.8 514.8h1.4v1.4h-1.4zM236.8 519.8h1.4v1.4h-1.4zM214.8 524.8h1.4v1.4h-1.4zM210.8 525.8h2.4v1.4h-2.4zM206.8 526.8h2.4v1.4h-2.4zM202.8 527.8h2.4v1.4h-2.4zM198.8 528.8h2.4v1.4h-2.4zM194.8 529.8h2.4v1.4h-2.4zM191.8 530.8h1.4v1.4h-1.4z" fill="#2c2ca8" fill-opacity="0.75"/>
<path d="M683.8 408.8h1.4v1.4h-1.4zM690.8 410.8h1.4v1.4h-1.4zM545.8 412.8h1.4v1.4h-1.4zM697.8 412.8h1.4v1.4h-1.4zM541.8 413.8h1.4v1.4h-1.4zM704.8 414.8h1.4v1.4h-1.4zM530.8 416.8h1.4v1.4h-1.4zM711.8 416.8h1.4v1.4h-1.4zM526.8 417.8h1.4v1.4h-1.4zM519.8 419.8h1.4v1.4h-1.4zM722.8 419.8h1.4v1.4h-1.4zM515.8 420.8h1.4v1.4h-1.4zM729.8 421.8h1.4v1.4h-1.4zM504.8 423.8h1.4v1.4h-1.4zM736.8 423.8h1.4v1.4h-1.4zM500.8 424.8h1.4v1.4h-1.4zM743.8 425.8h1.4v1.4h-1.4zM750.8 427.8h1.4v1.4h-1.4zM484.8 429.8h1.4v1.4h-1.4zM757.8 429.8h1.4v1.4h-1.4zM764.8 431.8h1.4v1.4h-1.4zM476.8 432.8h1.4v1.4h-1.4zM473.8 433.8h1.4v1.4h-1.4zM771.8 433.8h1.4v1.4h-1.4zM468.8 435.8h1.4v1.4h-1.4zM778.8 435.8h1.4v1.4h-1.4zM465.8 436.8h1.4v1.4h-1.4zM785.8 437.8h1.4v1.4h-1.4zM457.8 439.8h1.4v1.4h-1.4zM792.8 439.8h1.4v1.4h-1.4zM799.8 441.8h1.4v1.4h-1.4zM449.8 442.8h1.4v1.4h-1.4zM446.8 443.8h1.4v1.4h-1.4zM806.8 443.8h1.4v1.4h-1.4zM809.8 444.8h1.4v1.4h-1.4zM811.8 445.8h1.4v1.4h-1.4zM438.8 446.8h1.4v1.4h-1.4zM818.8 448.8h1.4v1.4h-1.4zM430.8 449.8h1.4v1.4h-1.4zM820.8 449.8h1.4v1.4h-1.4zM422.8 452.8h1.4v1.4h-1.4zM419.8 453.8h1.4v1.4h-1.4zM829.8 453.8h1.4v1.4h-1.4zM411.8 456.8h1.4v1.4h-1.4zM838.8 457.8h1.4v1.4h-1.4zM840.8 458.8h1.4v1.4h-1.4zM403.8 459.8h1.4v1.4h-1.4zM847.8 461.8h1.4v1.4h-1.4zM395.8 462.8h1.4v1.4h-1.4zM849.8 462.8h1.4v1.4h-1.4zM392.8 463.8h1.4v1.4h-1.4zM856.8 465.8h1.4v1.4h-1.4zM384.8 466.8h1.4v1.4h-1.4zM858.8 466.8h1.4v1.4h-1.4zM376.8 469.8h1.4v1.4h-1.4zM373.8 470.8h1.4v1.4h-1.4zM867.8 470.8h1.4v1.4h-1.4zM365.8 473.8h1.4v1.4h-1.4zM876.8 474.8h1.4v1.4h-1.4zM360.8 475.8h1.4v1.4h-1.4zM355.8 477.8h1.4v1.4h-1.4zM885.8 478.8h1.4v1.4h-1.4zM887.8 479.8h1.4v1.4h-1.4zM347.8 480.8h1.4v1.4h-1.4zM342.8 482.8h1.4v1.4h-1.4zM894.8 482.8h1.4v1.4h-1.4zM896.8 483.8h1.4v1.4h-1.4zM337.8 484.8h1.4v1.4h-1.4zM332.8 486.8h1.4v1.4h-1.4zM905.8 487.8h1.4v1.4h-1.4zM327.8 488.8h1.4v1.4h-1.4zM319.8 491.8h1.4v1.4h-1.4zM914.8 491.8h1.4v1.4h-1.4zM314.8 493.8h1.4v1.4h-1.4zM309.8 495.8h1.4v1.4h-1.4zM923.8 495.8h1.4v1.4h-1.4zM925.8 496.8h1.4v1.4h-1.4zM304.8 497.8h1.4v1.4h-1.4zM932.8 499.8h1.4v1.4h-1.4zM292.8 501.8h1.4v1.4h-1.4zM289.8 502.8h1.4v1.4h-1.4zM286.8 503.8h1.4v1.4h-1.4zM270.8 508.8h1.4v1.4h-1.4zM267.8 509.8h1.4v1.4h-1.4zM264.8 510.8h1.4v1.4h-1.4zM248.8 515.8h1.4v1.4h-1.4zM245.8 516.8h1.4v1.4h-1.4zM242.8 517.8h1.4v1.4h-1.4zM239.8 518.8h1.4v1.4h-1.4zM235.8 519.8h1.4v1.4h-1.4zM231.8 520.8h1.4v1.4h-1.4zM227.8 521.8h1.4v1.4h-1.4zM223.8 522.8h1.4v1.4h-1.4zM219.8 523.8h1.4v1.4h-1.4zM215.8 524.8h1.4v1.4h-1.4zM190.8 530.8h1.4v1.4h-1.4zM186.8 531.8h1.4v1.4h-1.4zM182.8 532.8h1.4v1.4h-1.4zM178.8 533.8h1.4v1.4h-1.4zM174.8 534.8h1.4v1.4h-1.4z" fill="#2c2ca8" fill-opacity="1.00"/>
<line x1="555.3" y1="411.2" x2="682.1" y2="409.0" stroke="#2a2aa0" stroke-width="1.3" stroke-dasharray="13.1 24.6 25.75 25.75 26 30"/>
<rect x="168.9" y="535.0" width="12.0" height="12.0" fill="#000"/>
<rect x="232.3" y="520.3" width="12.0" height="12.0" fill="#000"/>
<rect x="295.7" y="502.4" width="12.0" height="12.0" fill="#000"/>
<rect x="359.1" y="476.0" width="12.0" height="12.0" fill="#000"/>
<rect x="485.9" y="404.9" width="12.0" height="12.0" fill="#000"/>
<rect x="549.3" y="360.3" width="12.0" height="12.0" fill="#000"/>
<rect x="676.1" y="260.1" width="12.0" height="12.0" fill="#000"/>
<rect x="802.9" y="160.8" width="12.0" height="12.0" fill="#000"/>
<rect x="929.7" y="80.8" width="12.0" height="12.0" fill="#000"/>
<circle cx="174.9" cy="542.0" r="6.6" fill="#f00"/>
<circle cx="238.3" cy="535.0" r="6.6" fill="#f00"/>
<circle cx="301.7" cy="524.7" r="6.6" fill="#f00"/>
<circle cx="365.1" cy="510.0" r="6.6" fill="#f00"/>
<circle cx="491.9" cy="468.5" r="6.6" fill="#f00"/>
<circle cx="555.3" cy="442.7" r="6.6" fill="#f00"/>
<circle cx="682.1" cy="384.8" r="6.6" fill="#f00"/>
<circle cx="808.9" cy="327.0" r="6.6" fill="#f00"/>
<circle cx="935.7" cy="281.3" r="6.6" fill="#f00"/>
<polygon points="174.9,526.6 182.6,539.8 167.2,539.8" fill="#00f"/>
<polygon points="238.3,511.1 246.0,524.3 230.6,524.3" fill="#00f"/>
<polygon points="301.7,490.9 309.4,504.1 294.0,504.1" fill="#00f"/>
<polygon points="365.1,466.0 372.8,479.2 357.4,479.2" fill="#00f"/>
<polygon points="491.9,419.1 499.6,432.3 484.2,432.3" fill="#00f"/>
<polygon points="555.3,402.1 563.0,415.3 547.6,415.3" fill="#00f"/>
<polygon points="682.1,399.9 689.8,413.1 674.4,413.1" fill="#00f"/>
<polygon points="808.9,436.0 816.6,449.2 801.2,449.2" fill="#00f"/>
<polygon points="935.7,492.7 943.4,505.9 928.0,505.9" fill="#00f"/>
</g>
<text x="238.3" y="632" font-size="30" text-anchor="middle">20</text>
<text x="365.1" y="632" font-size="30" text-anchor="middle">30</text>
<text x="491.9" y="632" font-size="30" text-anchor="middle">40</text>
<text x="618.7" y="632" font-size="30" text-anchor="middle">50</text>
<text x="745.5" y="632" font-size="30" text-anchor="middle">60</text>
<text x="872.3" y="632" font-size="30" text-anchor="middle">70</text>
<text x="155.3" y="555.8" font-size="29.5" text-anchor="end">0.0</text>
<text x="155.8" y="470.2" font-size="29.5" text-anchor="end">5.0x10<tspan font-size="18.5" dx="0.6" dy="-11.8">8</tspan></text>
<text x="155.8" y="383.2" font-size="29.5" text-anchor="end">1.0x10<tspan font-size="18.5" dx="0.6" dy="-11.8">9</tspan></text>
<text x="155.8" y="296.2" font-size="29.5" text-anchor="end">1.5x10<tspan font-size="18.5" dx="0.6" dy="-11.8">9</tspan></text>
<text x="155.8" y="209.2" font-size="29.5" text-anchor="end">2.0x10<tspan font-size="18.5" dx="0.6" dy="-11.8">9</tspan></text>
<text x="155.8" y="122.2" font-size="29.5" text-anchor="end">2.5x10<tspan font-size="18.5" dx="0.6" dy="-11.8">9</tspan></text>
<text x="155.8" y="35.2" font-size="29.5" text-anchor="end">3.0x10<tspan font-size="18.5" dx="0.6" dy="-11.8">9</tspan></text>
<text x="352.9" y="681.3" font-size="31.8">Inclination angle of the truss (°)</text>
<text transform="translate(52.9,570.2) rotate(-90)" font-size="31.8">Equivalent transverse shear modulus (Pa)</text>
<line x1="206.5" y1="52.9" x2="494" y2="52.9" stroke="#aaa" stroke-width="1.5"/>
<line x1="493.9" y1="52.2" x2="493.9" y2="159.4" stroke="#666" stroke-width="1.5"/>
<line x1="206.5" y1="158.7" x2="494.6" y2="158.7" stroke="#666" stroke-width="1.5"/>
<rect x="242.8" y="65.3" width="12" height="12" fill="#000"/>
<circle cx="248" cy="107.2" r="6.6" fill="#f00"/>
<line x1="216.8" y1="142.3" x2="280.9" y2="142.3" stroke="#2a2ad0" stroke-width="1.2"/>
<polygon points="248.5,134.1 256.2,147.2 240.8,147.2" fill="#00f"/>
<text x="288.2" y="81.9" font-size="29.4">pyramidal core</text>
<text x="288.2" y="117.5" font-size="29.4">tetrahedral core</text>
<text x="287.6" y="152.5" font-size="29.4">3D-Kagome core</text>
</svg>
</body></html>
